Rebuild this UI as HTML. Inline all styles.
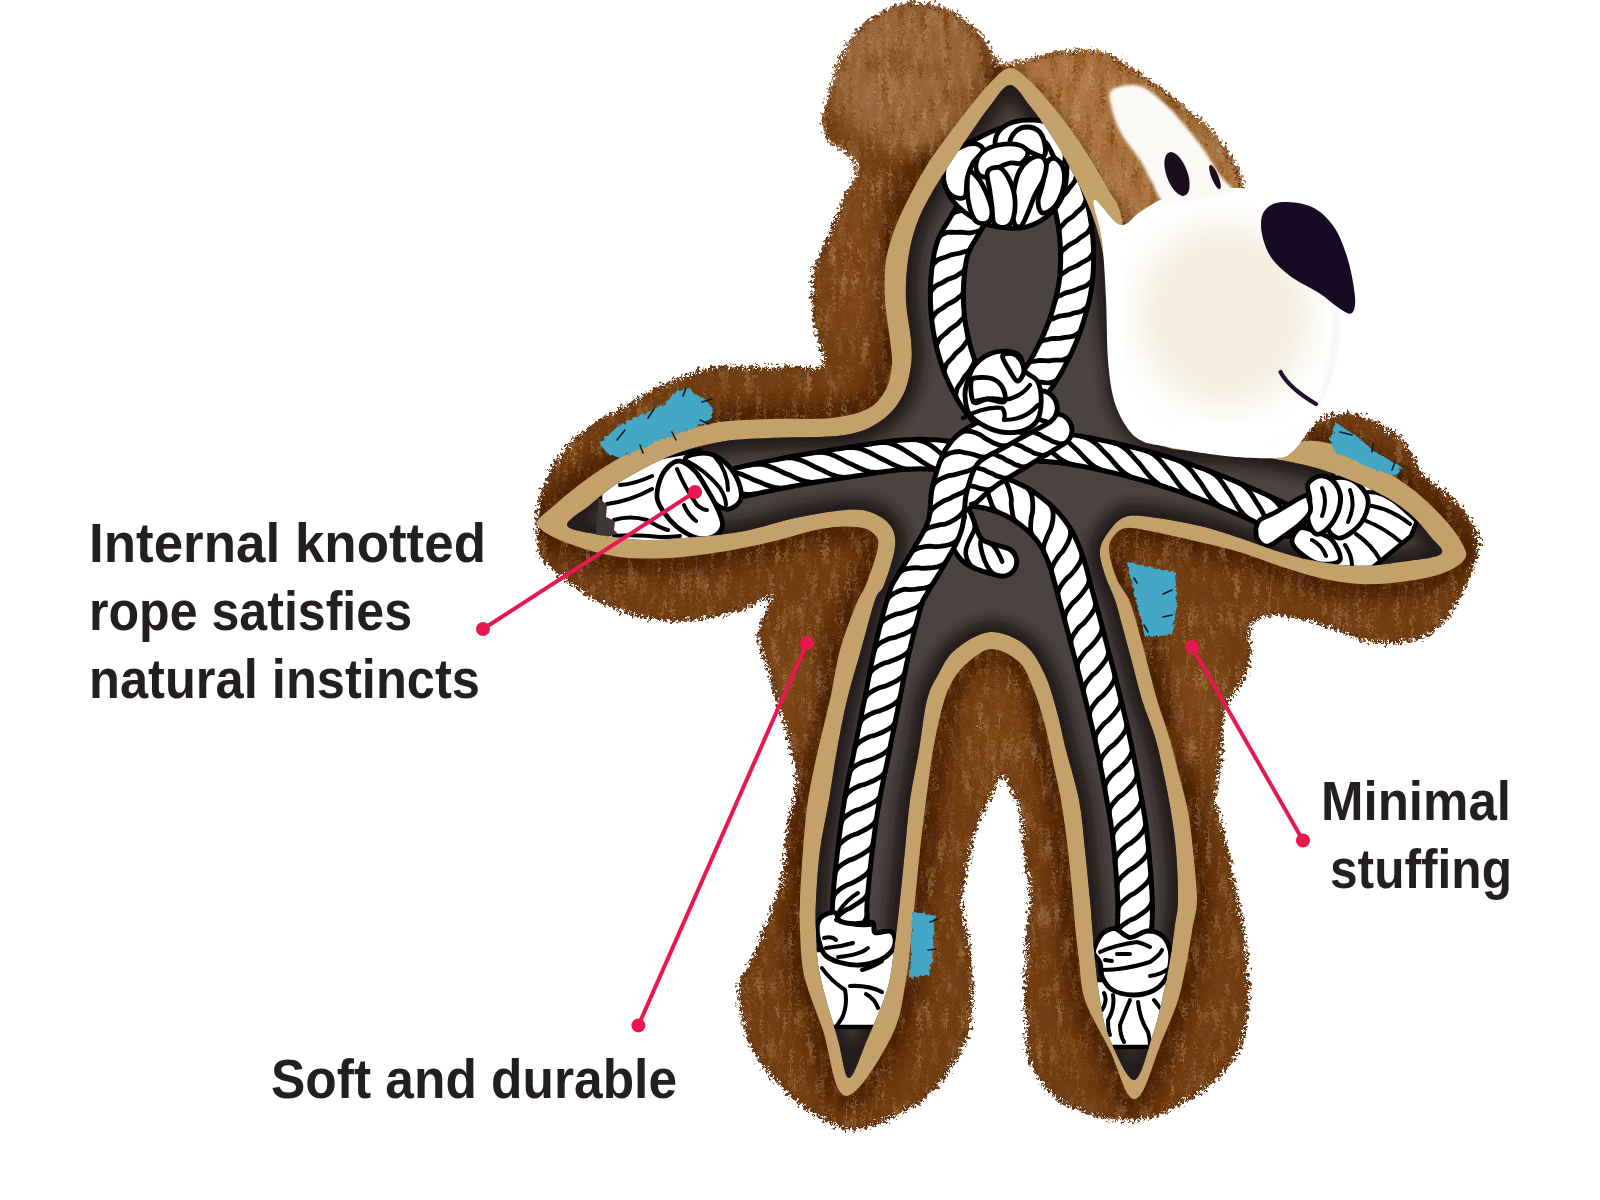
<!DOCTYPE html>
<html><head><meta charset="utf-8"><title>Bear toy</title>
<style>html,body{margin:0;padding:0;background:#fff;width:1600px;height:1200px;overflow:hidden}</style>
</head><body>
<svg width="1600" height="1200" viewBox="0 0 1600 1200" style="position:absolute;left:0;top:0">
<defs>
<filter id="fur" x="-5%" y="-5%" width="110%" height="110%">
 <feTurbulence type="fractalNoise" baseFrequency="0.32" numOctaves="1" seed="3" result="n"/>
 <feDisplacementMap in="SourceGraphic" in2="n" scale="13" xChannelSelector="R" yChannelSelector="G"/>
</filter>
<filter id="furtex" x="0" y="0" width="100%" height="100%">
 <feTurbulence type="fractalNoise" baseFrequency="0.28 0.03" numOctaves="3" seed="11"/>
 <feColorMatrix type="matrix" values="0 0 0 0 0.82  0 0 0 0 0.58  0 0 0 0 0.32  2.2 0 0 0 -1.1"/>
</filter>
<filter id="furtex2" x="0" y="0" width="100%" height="100%">
 <feTurbulence type="fractalNoise" baseFrequency="0.22 0.025" numOctaves="3" seed="23"/>
 <feColorMatrix type="matrix" values="0 0 0 0 0.16  0 0 0 0 0.04  0 0 0 0 0  2.2 0 0 0 -1.0"/>
</filter>
<clipPath id="silclip"><path d="M831.0,137.0 C826.7,130.7 826.7,125.2 827.0,118.0 C827.3,110.8 830.2,104.3 833.0,94.0 C835.8,83.7 838.0,67.5 844.0,56.0 C850.0,44.5 858.7,33.2 869.0,25.0 C879.3,16.8 893.5,9.2 906.0,7.0 C918.5,4.8 932.5,7.5 944.0,12.0 C955.5,16.5 967.2,26.3 975.0,34.0 C982.8,41.7 986.3,52.5 991.0,58.0 C995.7,63.5 994.8,66.7 1003.0,67.0 C1011.2,67.3 1029.7,62.0 1040.0,60.0 C1050.3,58.0 1055.0,55.8 1065.0,55.0 C1075.0,54.2 1090.0,52.8 1100.0,55.0 C1110.0,57.2 1116.7,63.0 1125.0,68.0 C1133.3,73.0 1140.8,78.3 1150.0,85.0 C1159.2,91.7 1170.8,100.8 1180.0,108.0 C1189.2,115.2 1197.2,119.7 1205.0,128.0 C1212.8,136.3 1221.2,148.5 1227.0,158.0 C1232.8,167.5 1235.3,169.7 1240.0,185.0 C1244.7,200.3 1250.8,222.5 1255.0,250.0 C1259.2,277.5 1259.2,320.8 1265.0,350.0 C1270.8,379.2 1283.0,410.8 1290.0,425.0 C1297.0,439.2 1301.2,435.8 1307.0,435.0 C1312.8,434.2 1317.8,423.0 1325.0,420.0 C1332.2,417.0 1341.7,416.2 1350.0,417.0 C1358.3,417.8 1366.7,420.8 1375.0,425.0 C1383.3,429.2 1392.5,433.7 1400.0,442.0 C1407.5,450.3 1411.7,465.3 1420.0,475.0 C1428.3,484.7 1441.7,491.7 1450.0,500.0 C1458.3,508.3 1465.7,517.5 1470.0,525.0 C1474.3,532.5 1476.0,538.0 1476.0,545.0 C1476.0,552.0 1473.5,557.8 1470.0,567.0 C1466.5,576.2 1460.5,590.3 1455.0,600.0 C1449.5,609.7 1444.2,618.8 1437.0,625.0 C1429.8,631.2 1422.3,634.5 1412.0,637.0 C1401.7,639.5 1387.5,641.7 1375.0,640.0 C1362.5,638.3 1349.5,631.0 1337.0,627.0 C1324.5,623.0 1310.3,618.5 1300.0,616.0 C1289.7,613.5 1282.5,611.7 1275.0,612.0 C1267.5,612.3 1259.8,614.7 1255.0,618.0 C1250.2,621.3 1247.3,625.8 1246.0,632.0 C1244.7,638.2 1248.0,647.0 1247.0,655.0 C1246.0,663.0 1244.2,670.8 1240.0,680.0 C1235.8,689.2 1225.7,696.7 1222.0,710.0 C1218.3,723.3 1219.7,745.0 1218.0,760.0 C1216.3,775.0 1212.2,790.8 1212.0,800.0 C1211.8,809.2 1214.8,806.7 1217.0,815.0 C1219.2,823.3 1222.8,839.7 1225.0,850.0 C1227.2,860.3 1228.0,867.0 1230.0,877.0 C1232.0,887.0 1235.0,899.5 1237.0,910.0 C1239.0,920.5 1240.5,926.7 1242.0,940.0 C1243.5,953.3 1246.3,973.3 1246.0,990.0 C1245.7,1006.7 1243.5,1027.5 1240.0,1040.0 C1236.5,1052.5 1231.8,1056.7 1225.0,1065.0 C1218.2,1073.3 1211.5,1081.8 1199.0,1090.0 C1186.5,1098.2 1164.5,1109.5 1150.0,1114.0 C1135.5,1118.5 1124.5,1118.5 1112.0,1117.0 C1099.5,1115.5 1084.3,1108.7 1075.0,1105.0 C1065.7,1101.3 1062.2,1100.8 1056.0,1095.0 C1049.8,1089.2 1042.3,1077.5 1038.0,1070.0 C1033.7,1062.5 1031.7,1061.7 1030.0,1050.0 C1028.3,1038.3 1028.3,1012.5 1028.0,1000.0 C1027.7,987.5 1027.7,986.7 1028.0,975.0 C1028.3,963.3 1029.2,942.5 1030.0,930.0 C1030.8,917.5 1033.0,909.2 1033.0,900.0 C1033.0,890.8 1031.0,883.3 1030.0,875.0 C1029.0,866.7 1027.8,858.3 1027.0,850.0 C1026.2,841.7 1026.3,833.3 1025.0,825.0 C1023.7,816.7 1022.7,808.8 1019.0,800.0 C1015.3,791.2 1008.5,772.0 1003.0,772.0 C997.5,772.0 990.8,791.2 986.0,800.0 C981.2,808.8 977.0,816.7 974.0,825.0 C971.0,833.3 969.8,841.7 968.0,850.0 C966.2,858.3 964.7,866.7 963.0,875.0 C961.3,883.3 957.7,889.7 958.0,900.0 C958.3,910.3 963.0,921.3 965.0,937.0 C967.0,952.7 970.5,976.5 970.0,994.0 C969.5,1011.5 968.3,1026.5 962.0,1042.0 C955.7,1057.5 944.5,1074.5 932.0,1087.0 C919.5,1099.5 902.0,1110.7 887.0,1117.0 C872.0,1123.3 857.5,1128.7 842.0,1125.0 C826.5,1121.3 808.3,1107.5 794.0,1095.0 C779.7,1082.5 764.8,1066.8 756.0,1050.0 C747.2,1033.2 742.0,1007.3 741.0,994.0 C740.0,980.7 745.7,980.7 750.0,970.0 C754.3,959.3 761.3,945.0 767.0,930.0 C772.7,915.0 780.2,896.7 784.0,880.0 C787.8,863.3 787.5,846.7 790.0,830.0 C792.5,813.3 798.8,795.0 799.0,780.0 C799.2,765.0 794.7,755.0 791.0,740.0 C787.3,725.0 781.8,706.7 777.0,690.0 C772.2,673.3 763.5,652.5 762.0,640.0 C760.5,627.5 766.3,622.7 768.0,615.0 C769.7,607.3 775.8,595.7 772.0,594.0 C768.2,592.3 757.8,601.2 745.0,605.0 C732.2,608.8 711.7,615.3 695.0,617.0 C678.3,618.7 659.7,617.5 645.0,615.0 C630.3,612.5 619.5,607.8 607.0,602.0 C594.5,596.2 580.3,587.5 570.0,580.0 C559.7,572.5 550.0,564.5 545.0,557.0 C540.0,549.5 540.8,542.8 540.0,535.0 C539.2,527.2 538.3,519.2 540.0,510.0 C541.7,500.8 545.8,489.7 550.0,480.0 C554.2,470.3 557.5,460.8 565.0,452.0 C572.5,443.2 583.8,434.8 595.0,427.0 C606.2,419.2 619.5,412.0 632.0,405.0 C644.5,398.0 657.5,390.5 670.0,385.0 C682.5,379.5 694.5,374.5 707.0,372.0 C719.5,369.5 730.3,370.3 745.0,370.0 C759.7,369.7 782.5,369.8 795.0,370.0 C807.5,370.2 814.8,372.7 820.0,371.0 C825.2,369.3 825.7,364.5 826.0,360.0 C826.3,355.5 823.7,352.0 822.0,344.0 C820.3,336.0 817.0,323.5 816.0,312.0 C815.0,300.5 814.0,286.3 816.0,275.0 C818.0,263.7 823.3,255.5 828.0,244.0 C832.7,232.5 838.8,217.5 844.0,206.0 C849.2,194.5 857.5,183.3 859.0,175.0 C860.5,166.7 857.7,162.3 853.0,156.0 C848.3,149.7 835.3,143.3 831.0,137.0Z"/></clipPath>
<filter id="rough" x="-10%" y="-10%" width="120%" height="120%"><feTurbulence type="fractalNoise" baseFrequency="0.25" numOctaves="2" seed="5" result="n"/><feDisplacementMap in="SourceGraphic" in2="n" scale="5"/></filter>
<filter id="b8"><feGaussianBlur stdDeviation="8"/></filter>
<filter id="b18"><feGaussianBlur stdDeviation="18"/></filter>
<filter id="b6"><feGaussianBlur stdDeviation="6"/></filter>
<filter id="b3"><feGaussianBlur stdDeviation="3"/></filter>
<filter id="b2"><feGaussianBlur stdDeviation="1.5"/></filter>
<clipPath id="darkclip"><path d="M1010.0,85.0 C1016.7,85.0 1023.3,97.8 1030.0,106.0 C1036.7,114.2 1043.7,124.3 1050.0,134.0 C1056.3,143.7 1062.3,153.7 1068.0,164.0 C1073.7,174.3 1079.3,185.7 1084.0,196.0 C1088.7,206.3 1092.7,215.3 1096.0,226.0 C1099.3,236.7 1102.0,247.7 1104.0,260.0 C1106.0,272.3 1106.7,286.7 1108.0,300.0 C1109.3,313.3 1110.5,327.5 1112.0,340.0 C1113.5,352.5 1115.3,364.2 1117.0,375.0 C1118.7,385.8 1118.2,395.5 1122.0,405.0 C1125.8,414.5 1133.3,425.3 1140.0,432.0 C1146.7,438.7 1155.3,442.0 1162.0,445.0 C1168.7,448.0 1167.0,448.5 1180.0,450.0 C1193.0,451.5 1220.0,451.7 1240.0,454.0 C1260.0,456.3 1283.3,460.3 1300.0,464.0 C1316.7,467.7 1326.7,471.0 1340.0,476.0 C1353.3,481.0 1368.3,487.7 1380.0,494.0 C1391.7,500.3 1401.7,507.0 1410.0,514.0 C1418.3,521.0 1424.8,529.3 1430.0,536.0 C1435.2,542.7 1446.0,549.7 1441.0,554.0 C1436.0,558.3 1413.5,560.0 1400.0,562.0 C1386.5,564.0 1373.3,566.0 1360.0,566.0 C1346.7,566.0 1333.3,564.3 1320.0,562.0 C1306.7,559.7 1293.3,556.0 1280.0,552.0 C1266.7,548.0 1253.3,542.3 1240.0,538.0 C1226.7,533.7 1215.0,529.5 1200.0,526.0 C1185.0,522.5 1162.5,518.5 1150.0,517.0 C1137.5,515.5 1131.7,514.8 1125.0,517.0 C1118.3,519.2 1114.2,524.5 1110.0,530.0 C1105.8,535.5 1100.8,542.5 1100.0,550.0 C1099.2,557.5 1102.5,566.7 1105.0,575.0 C1107.5,583.3 1112.2,591.7 1115.0,600.0 C1117.8,608.3 1119.2,614.7 1122.0,625.0 C1124.8,635.3 1128.7,649.5 1132.0,662.0 C1135.3,674.5 1138.2,687.5 1142.0,700.0 C1145.8,712.5 1151.3,724.5 1155.0,737.0 C1158.7,749.5 1161.3,762.5 1164.0,775.0 C1166.7,787.5 1169.0,799.5 1171.0,812.0 C1173.0,824.5 1174.8,835.3 1176.0,850.0 C1177.2,864.7 1178.2,887.5 1178.0,900.0 C1177.8,912.5 1176.3,915.0 1175.0,925.0 C1173.7,935.0 1172.2,947.5 1170.0,960.0 C1167.8,972.5 1165.0,987.2 1162.0,1000.0 C1159.0,1012.8 1156.7,1023.7 1152.0,1037.0 C1147.3,1050.3 1141.2,1080.0 1134.0,1080.0 C1126.8,1080.0 1114.7,1050.3 1109.0,1037.0 C1103.3,1023.7 1102.3,1012.8 1100.0,1000.0 C1097.7,987.2 1096.3,972.5 1095.0,960.0 C1093.7,947.5 1092.8,935.0 1092.0,925.0 C1091.2,915.0 1091.2,912.5 1090.0,900.0 C1088.8,887.5 1086.8,866.7 1085.0,850.0 C1083.2,833.3 1082.2,816.7 1079.0,800.0 C1075.8,783.3 1069.7,764.7 1066.0,750.0 C1062.3,735.3 1060.5,724.5 1057.0,712.0 C1053.5,699.5 1050.3,686.2 1045.0,675.0 C1039.7,663.8 1034.2,652.2 1025.0,645.0 C1015.8,637.8 1001.7,631.2 990.0,632.0 C978.3,632.8 963.7,642.8 955.0,650.0 C946.3,657.2 942.7,666.7 938.0,675.0 C933.3,683.3 930.2,687.5 927.0,700.0 C923.8,712.5 921.8,733.3 919.0,750.0 C916.2,766.7 912.3,783.3 910.0,800.0 C907.7,816.7 906.7,833.3 905.0,850.0 C903.3,866.7 901.8,883.3 900.0,900.0 C898.2,916.7 896.2,935.0 894.0,950.0 C891.8,965.0 891.5,975.0 887.0,990.0 C882.5,1005.0 873.3,1025.3 867.0,1040.0 C860.7,1054.7 853.8,1078.0 849.0,1078.0 C844.2,1078.0 842.8,1057.2 838.0,1040.0 C833.2,1022.8 823.7,993.3 820.0,975.0 C816.3,956.7 816.7,942.5 816.0,930.0 C815.3,917.5 815.3,913.3 816.0,900.0 C816.7,886.7 817.8,866.7 820.0,850.0 C822.2,833.3 826.2,816.7 829.0,800.0 C831.8,783.3 834.0,766.7 837.0,750.0 C840.0,733.3 843.0,716.7 847.0,700.0 C851.0,683.3 856.3,666.7 861.0,650.0 C865.7,633.3 871.2,610.8 875.0,600.0 C878.8,589.2 880.7,593.8 884.0,585.0 C887.3,576.2 894.0,557.0 895.0,547.0 C896.0,537.0 894.2,530.8 890.0,525.0 C885.8,519.2 877.5,514.5 870.0,512.0 C862.5,509.5 857.5,509.0 845.0,510.0 C832.5,511.0 811.7,514.5 795.0,518.0 C778.3,521.5 761.7,527.8 745.0,531.0 C728.3,534.2 711.7,535.5 695.0,537.0 C678.3,538.5 661.7,540.5 645.0,540.0 C628.3,539.5 608.0,536.5 595.0,534.0 C582.0,531.5 567.8,529.8 567.0,525.0 C566.2,520.2 581.2,512.2 590.0,505.0 C598.8,497.8 606.7,490.2 620.0,482.0 C633.3,473.8 653.3,462.7 670.0,456.0 C686.7,449.3 703.3,445.0 720.0,442.0 C736.7,439.0 749.2,439.2 770.0,438.0 C790.8,436.8 826.3,438.0 845.0,435.0 C863.7,432.0 872.3,426.7 882.0,420.0 C891.7,413.3 898.2,404.2 903.0,395.0 C907.8,385.8 909.7,374.2 911.0,365.0 C912.3,355.8 911.8,350.8 911.0,340.0 C910.2,329.2 906.5,313.3 906.0,300.0 C905.5,286.7 906.3,272.3 908.0,260.0 C909.7,247.7 912.3,236.7 916.0,226.0 C919.7,215.3 924.3,206.3 930.0,196.0 C935.7,185.7 943.3,174.3 950.0,164.0 C956.7,153.7 963.3,143.7 970.0,134.0 C976.7,124.3 983.3,114.2 990.0,106.0 C996.7,97.8 1003.3,85.0 1010.0,85.0Z"/></clipPath>
</defs>
<g filter="url(#fur)">
<path d="M831.0,137.0 C826.7,130.7 826.7,125.2 827.0,118.0 C827.3,110.8 830.2,104.3 833.0,94.0 C835.8,83.7 838.0,67.5 844.0,56.0 C850.0,44.5 858.7,33.2 869.0,25.0 C879.3,16.8 893.5,9.2 906.0,7.0 C918.5,4.8 932.5,7.5 944.0,12.0 C955.5,16.5 967.2,26.3 975.0,34.0 C982.8,41.7 986.3,52.5 991.0,58.0 C995.7,63.5 994.8,66.7 1003.0,67.0 C1011.2,67.3 1029.7,62.0 1040.0,60.0 C1050.3,58.0 1055.0,55.8 1065.0,55.0 C1075.0,54.2 1090.0,52.8 1100.0,55.0 C1110.0,57.2 1116.7,63.0 1125.0,68.0 C1133.3,73.0 1140.8,78.3 1150.0,85.0 C1159.2,91.7 1170.8,100.8 1180.0,108.0 C1189.2,115.2 1197.2,119.7 1205.0,128.0 C1212.8,136.3 1221.2,148.5 1227.0,158.0 C1232.8,167.5 1235.3,169.7 1240.0,185.0 C1244.7,200.3 1250.8,222.5 1255.0,250.0 C1259.2,277.5 1259.2,320.8 1265.0,350.0 C1270.8,379.2 1283.0,410.8 1290.0,425.0 C1297.0,439.2 1301.2,435.8 1307.0,435.0 C1312.8,434.2 1317.8,423.0 1325.0,420.0 C1332.2,417.0 1341.7,416.2 1350.0,417.0 C1358.3,417.8 1366.7,420.8 1375.0,425.0 C1383.3,429.2 1392.5,433.7 1400.0,442.0 C1407.5,450.3 1411.7,465.3 1420.0,475.0 C1428.3,484.7 1441.7,491.7 1450.0,500.0 C1458.3,508.3 1465.7,517.5 1470.0,525.0 C1474.3,532.5 1476.0,538.0 1476.0,545.0 C1476.0,552.0 1473.5,557.8 1470.0,567.0 C1466.5,576.2 1460.5,590.3 1455.0,600.0 C1449.5,609.7 1444.2,618.8 1437.0,625.0 C1429.8,631.2 1422.3,634.5 1412.0,637.0 C1401.7,639.5 1387.5,641.7 1375.0,640.0 C1362.5,638.3 1349.5,631.0 1337.0,627.0 C1324.5,623.0 1310.3,618.5 1300.0,616.0 C1289.7,613.5 1282.5,611.7 1275.0,612.0 C1267.5,612.3 1259.8,614.7 1255.0,618.0 C1250.2,621.3 1247.3,625.8 1246.0,632.0 C1244.7,638.2 1248.0,647.0 1247.0,655.0 C1246.0,663.0 1244.2,670.8 1240.0,680.0 C1235.8,689.2 1225.7,696.7 1222.0,710.0 C1218.3,723.3 1219.7,745.0 1218.0,760.0 C1216.3,775.0 1212.2,790.8 1212.0,800.0 C1211.8,809.2 1214.8,806.7 1217.0,815.0 C1219.2,823.3 1222.8,839.7 1225.0,850.0 C1227.2,860.3 1228.0,867.0 1230.0,877.0 C1232.0,887.0 1235.0,899.5 1237.0,910.0 C1239.0,920.5 1240.5,926.7 1242.0,940.0 C1243.5,953.3 1246.3,973.3 1246.0,990.0 C1245.7,1006.7 1243.5,1027.5 1240.0,1040.0 C1236.5,1052.5 1231.8,1056.7 1225.0,1065.0 C1218.2,1073.3 1211.5,1081.8 1199.0,1090.0 C1186.5,1098.2 1164.5,1109.5 1150.0,1114.0 C1135.5,1118.5 1124.5,1118.5 1112.0,1117.0 C1099.5,1115.5 1084.3,1108.7 1075.0,1105.0 C1065.7,1101.3 1062.2,1100.8 1056.0,1095.0 C1049.8,1089.2 1042.3,1077.5 1038.0,1070.0 C1033.7,1062.5 1031.7,1061.7 1030.0,1050.0 C1028.3,1038.3 1028.3,1012.5 1028.0,1000.0 C1027.7,987.5 1027.7,986.7 1028.0,975.0 C1028.3,963.3 1029.2,942.5 1030.0,930.0 C1030.8,917.5 1033.0,909.2 1033.0,900.0 C1033.0,890.8 1031.0,883.3 1030.0,875.0 C1029.0,866.7 1027.8,858.3 1027.0,850.0 C1026.2,841.7 1026.3,833.3 1025.0,825.0 C1023.7,816.7 1022.7,808.8 1019.0,800.0 C1015.3,791.2 1008.5,772.0 1003.0,772.0 C997.5,772.0 990.8,791.2 986.0,800.0 C981.2,808.8 977.0,816.7 974.0,825.0 C971.0,833.3 969.8,841.7 968.0,850.0 C966.2,858.3 964.7,866.7 963.0,875.0 C961.3,883.3 957.7,889.7 958.0,900.0 C958.3,910.3 963.0,921.3 965.0,937.0 C967.0,952.7 970.5,976.5 970.0,994.0 C969.5,1011.5 968.3,1026.5 962.0,1042.0 C955.7,1057.5 944.5,1074.5 932.0,1087.0 C919.5,1099.5 902.0,1110.7 887.0,1117.0 C872.0,1123.3 857.5,1128.7 842.0,1125.0 C826.5,1121.3 808.3,1107.5 794.0,1095.0 C779.7,1082.5 764.8,1066.8 756.0,1050.0 C747.2,1033.2 742.0,1007.3 741.0,994.0 C740.0,980.7 745.7,980.7 750.0,970.0 C754.3,959.3 761.3,945.0 767.0,930.0 C772.7,915.0 780.2,896.7 784.0,880.0 C787.8,863.3 787.5,846.7 790.0,830.0 C792.5,813.3 798.8,795.0 799.0,780.0 C799.2,765.0 794.7,755.0 791.0,740.0 C787.3,725.0 781.8,706.7 777.0,690.0 C772.2,673.3 763.5,652.5 762.0,640.0 C760.5,627.5 766.3,622.7 768.0,615.0 C769.7,607.3 775.8,595.7 772.0,594.0 C768.2,592.3 757.8,601.2 745.0,605.0 C732.2,608.8 711.7,615.3 695.0,617.0 C678.3,618.7 659.7,617.5 645.0,615.0 C630.3,612.5 619.5,607.8 607.0,602.0 C594.5,596.2 580.3,587.5 570.0,580.0 C559.7,572.5 550.0,564.5 545.0,557.0 C540.0,549.5 540.8,542.8 540.0,535.0 C539.2,527.2 538.3,519.2 540.0,510.0 C541.7,500.8 545.8,489.7 550.0,480.0 C554.2,470.3 557.5,460.8 565.0,452.0 C572.5,443.2 583.8,434.8 595.0,427.0 C606.2,419.2 619.5,412.0 632.0,405.0 C644.5,398.0 657.5,390.5 670.0,385.0 C682.5,379.5 694.5,374.5 707.0,372.0 C719.5,369.5 730.3,370.3 745.0,370.0 C759.7,369.7 782.5,369.8 795.0,370.0 C807.5,370.2 814.8,372.7 820.0,371.0 C825.2,369.3 825.7,364.5 826.0,360.0 C826.3,355.5 823.7,352.0 822.0,344.0 C820.3,336.0 817.0,323.5 816.0,312.0 C815.0,300.5 814.0,286.3 816.0,275.0 C818.0,263.7 823.3,255.5 828.0,244.0 C832.7,232.5 838.8,217.5 844.0,206.0 C849.2,194.5 857.5,183.3 859.0,175.0 C860.5,166.7 857.7,162.3 853.0,156.0 C848.3,149.7 835.3,143.3 831.0,137.0Z" fill="none" stroke="#70401a" stroke-width="9" stroke-dasharray="2.2 2.6"/>
<path d="M831.0,137.0 C826.7,130.7 826.7,125.2 827.0,118.0 C827.3,110.8 830.2,104.3 833.0,94.0 C835.8,83.7 838.0,67.5 844.0,56.0 C850.0,44.5 858.7,33.2 869.0,25.0 C879.3,16.8 893.5,9.2 906.0,7.0 C918.5,4.8 932.5,7.5 944.0,12.0 C955.5,16.5 967.2,26.3 975.0,34.0 C982.8,41.7 986.3,52.5 991.0,58.0 C995.7,63.5 994.8,66.7 1003.0,67.0 C1011.2,67.3 1029.7,62.0 1040.0,60.0 C1050.3,58.0 1055.0,55.8 1065.0,55.0 C1075.0,54.2 1090.0,52.8 1100.0,55.0 C1110.0,57.2 1116.7,63.0 1125.0,68.0 C1133.3,73.0 1140.8,78.3 1150.0,85.0 C1159.2,91.7 1170.8,100.8 1180.0,108.0 C1189.2,115.2 1197.2,119.7 1205.0,128.0 C1212.8,136.3 1221.2,148.5 1227.0,158.0 C1232.8,167.5 1235.3,169.7 1240.0,185.0 C1244.7,200.3 1250.8,222.5 1255.0,250.0 C1259.2,277.5 1259.2,320.8 1265.0,350.0 C1270.8,379.2 1283.0,410.8 1290.0,425.0 C1297.0,439.2 1301.2,435.8 1307.0,435.0 C1312.8,434.2 1317.8,423.0 1325.0,420.0 C1332.2,417.0 1341.7,416.2 1350.0,417.0 C1358.3,417.8 1366.7,420.8 1375.0,425.0 C1383.3,429.2 1392.5,433.7 1400.0,442.0 C1407.5,450.3 1411.7,465.3 1420.0,475.0 C1428.3,484.7 1441.7,491.7 1450.0,500.0 C1458.3,508.3 1465.7,517.5 1470.0,525.0 C1474.3,532.5 1476.0,538.0 1476.0,545.0 C1476.0,552.0 1473.5,557.8 1470.0,567.0 C1466.5,576.2 1460.5,590.3 1455.0,600.0 C1449.5,609.7 1444.2,618.8 1437.0,625.0 C1429.8,631.2 1422.3,634.5 1412.0,637.0 C1401.7,639.5 1387.5,641.7 1375.0,640.0 C1362.5,638.3 1349.5,631.0 1337.0,627.0 C1324.5,623.0 1310.3,618.5 1300.0,616.0 C1289.7,613.5 1282.5,611.7 1275.0,612.0 C1267.5,612.3 1259.8,614.7 1255.0,618.0 C1250.2,621.3 1247.3,625.8 1246.0,632.0 C1244.7,638.2 1248.0,647.0 1247.0,655.0 C1246.0,663.0 1244.2,670.8 1240.0,680.0 C1235.8,689.2 1225.7,696.7 1222.0,710.0 C1218.3,723.3 1219.7,745.0 1218.0,760.0 C1216.3,775.0 1212.2,790.8 1212.0,800.0 C1211.8,809.2 1214.8,806.7 1217.0,815.0 C1219.2,823.3 1222.8,839.7 1225.0,850.0 C1227.2,860.3 1228.0,867.0 1230.0,877.0 C1232.0,887.0 1235.0,899.5 1237.0,910.0 C1239.0,920.5 1240.5,926.7 1242.0,940.0 C1243.5,953.3 1246.3,973.3 1246.0,990.0 C1245.7,1006.7 1243.5,1027.5 1240.0,1040.0 C1236.5,1052.5 1231.8,1056.7 1225.0,1065.0 C1218.2,1073.3 1211.5,1081.8 1199.0,1090.0 C1186.5,1098.2 1164.5,1109.5 1150.0,1114.0 C1135.5,1118.5 1124.5,1118.5 1112.0,1117.0 C1099.5,1115.5 1084.3,1108.7 1075.0,1105.0 C1065.7,1101.3 1062.2,1100.8 1056.0,1095.0 C1049.8,1089.2 1042.3,1077.5 1038.0,1070.0 C1033.7,1062.5 1031.7,1061.7 1030.0,1050.0 C1028.3,1038.3 1028.3,1012.5 1028.0,1000.0 C1027.7,987.5 1027.7,986.7 1028.0,975.0 C1028.3,963.3 1029.2,942.5 1030.0,930.0 C1030.8,917.5 1033.0,909.2 1033.0,900.0 C1033.0,890.8 1031.0,883.3 1030.0,875.0 C1029.0,866.7 1027.8,858.3 1027.0,850.0 C1026.2,841.7 1026.3,833.3 1025.0,825.0 C1023.7,816.7 1022.7,808.8 1019.0,800.0 C1015.3,791.2 1008.5,772.0 1003.0,772.0 C997.5,772.0 990.8,791.2 986.0,800.0 C981.2,808.8 977.0,816.7 974.0,825.0 C971.0,833.3 969.8,841.7 968.0,850.0 C966.2,858.3 964.7,866.7 963.0,875.0 C961.3,883.3 957.7,889.7 958.0,900.0 C958.3,910.3 963.0,921.3 965.0,937.0 C967.0,952.7 970.5,976.5 970.0,994.0 C969.5,1011.5 968.3,1026.5 962.0,1042.0 C955.7,1057.5 944.5,1074.5 932.0,1087.0 C919.5,1099.5 902.0,1110.7 887.0,1117.0 C872.0,1123.3 857.5,1128.7 842.0,1125.0 C826.5,1121.3 808.3,1107.5 794.0,1095.0 C779.7,1082.5 764.8,1066.8 756.0,1050.0 C747.2,1033.2 742.0,1007.3 741.0,994.0 C740.0,980.7 745.7,980.7 750.0,970.0 C754.3,959.3 761.3,945.0 767.0,930.0 C772.7,915.0 780.2,896.7 784.0,880.0 C787.8,863.3 787.5,846.7 790.0,830.0 C792.5,813.3 798.8,795.0 799.0,780.0 C799.2,765.0 794.7,755.0 791.0,740.0 C787.3,725.0 781.8,706.7 777.0,690.0 C772.2,673.3 763.5,652.5 762.0,640.0 C760.5,627.5 766.3,622.7 768.0,615.0 C769.7,607.3 775.8,595.7 772.0,594.0 C768.2,592.3 757.8,601.2 745.0,605.0 C732.2,608.8 711.7,615.3 695.0,617.0 C678.3,618.7 659.7,617.5 645.0,615.0 C630.3,612.5 619.5,607.8 607.0,602.0 C594.5,596.2 580.3,587.5 570.0,580.0 C559.7,572.5 550.0,564.5 545.0,557.0 C540.0,549.5 540.8,542.8 540.0,535.0 C539.2,527.2 538.3,519.2 540.0,510.0 C541.7,500.8 545.8,489.7 550.0,480.0 C554.2,470.3 557.5,460.8 565.0,452.0 C572.5,443.2 583.8,434.8 595.0,427.0 C606.2,419.2 619.5,412.0 632.0,405.0 C644.5,398.0 657.5,390.5 670.0,385.0 C682.5,379.5 694.5,374.5 707.0,372.0 C719.5,369.5 730.3,370.3 745.0,370.0 C759.7,369.7 782.5,369.8 795.0,370.0 C807.5,370.2 814.8,372.7 820.0,371.0 C825.2,369.3 825.7,364.5 826.0,360.0 C826.3,355.5 823.7,352.0 822.0,344.0 C820.3,336.0 817.0,323.5 816.0,312.0 C815.0,300.5 814.0,286.3 816.0,275.0 C818.0,263.7 823.3,255.5 828.0,244.0 C832.7,232.5 838.8,217.5 844.0,206.0 C849.2,194.5 857.5,183.3 859.0,175.0 C860.5,166.7 857.7,162.3 853.0,156.0 C848.3,149.7 835.3,143.3 831.0,137.0Z" fill="none" stroke="#5f3210" stroke-width="6" stroke-dasharray="3 1.5"/>
<path d="M844.0,206.0 C846.5,200.8 857.5,183.3 859.0,175.0 C860.5,166.7 857.7,162.3 853.0,156.0 C848.3,149.7 835.3,143.3 831.0,137.0 C826.7,130.7 826.7,125.2 827.0,118.0 C827.3,110.8 830.2,104.3 833.0,94.0 C835.8,83.7 838.0,67.5 844.0,56.0 C850.0,44.5 858.7,33.2 869.0,25.0 C879.3,16.8 893.5,9.2 906.0,7.0 C918.5,4.8 932.5,7.5 944.0,12.0 C955.5,16.5 967.2,26.3 975.0,34.0 C982.8,41.7 986.3,52.5 991.0,58.0 C995.7,63.5 1001.0,65.5 1003.0,67.0" fill="none" stroke="#96643a" stroke-width="10" stroke-dasharray="2.4 2.2"/>
<path d="M1003.0,67.0 C1009.2,65.8 1029.7,62.0 1040.0,60.0 C1050.3,58.0 1055.0,55.8 1065.0,55.0 C1075.0,54.2 1090.0,52.8 1100.0,55.0 C1110.0,57.2 1116.7,63.0 1125.0,68.0 C1133.3,73.0 1140.8,78.3 1150.0,85.0 C1159.2,91.7 1170.8,100.8 1180.0,108.0 C1189.2,115.2 1197.2,119.7 1205.0,128.0 C1212.8,136.3 1221.2,148.5 1227.0,158.0 C1232.8,167.5 1237.8,180.5 1240.0,185.0" fill="none" stroke="#a5703e" stroke-width="10" stroke-dasharray="2.4 2.2"/>
<g clip-path="url(#silclip)">
<rect x="500" y="0" width="1000" height="1150" fill="#6f3c12"/>
<path d="M1010.0,70.0 C1016.7,69.7 1023.3,78.0 1030.0,84.0 C1036.7,90.0 1043.3,98.0 1050.0,106.0 C1056.7,114.0 1063.3,122.7 1070.0,132.0 C1076.7,141.3 1084.0,152.3 1090.0,162.0 C1096.0,171.7 1101.0,180.3 1106.0,190.0 C1111.0,199.7 1117.0,201.7 1120.0,220.0 C1123.0,238.3 1122.7,273.3 1124.0,300.0 C1125.3,326.7 1123.7,359.2 1128.0,380.0 C1132.3,400.8 1138.0,413.7 1150.0,425.0 C1162.0,436.3 1177.7,443.5 1200.0,448.0 C1222.3,452.5 1266.7,452.8 1284.0,452.0 C1301.3,451.2 1296.0,444.0 1304.0,443.0 C1312.0,442.0 1322.7,443.5 1332.0,446.0 C1341.3,448.5 1350.3,453.0 1360.0,458.0 C1369.7,463.0 1380.0,469.3 1390.0,476.0 C1400.0,482.7 1410.7,490.0 1420.0,498.0 C1429.3,506.0 1439.3,516.3 1446.0,524.0 C1452.7,531.7 1457.2,538.3 1460.0,544.0 C1462.8,549.7 1466.3,553.3 1463.0,558.0 C1459.7,562.7 1450.5,568.3 1440.0,572.0 C1429.5,575.7 1413.3,578.3 1400.0,580.0 C1386.7,581.7 1373.3,582.7 1360.0,582.0 C1346.7,581.3 1333.3,579.0 1320.0,576.0 C1306.7,573.0 1293.3,568.3 1280.0,564.0 C1266.7,559.7 1253.3,554.0 1240.0,550.0 C1226.7,546.0 1215.0,543.5 1200.0,540.0 C1185.0,536.5 1162.5,531.3 1150.0,529.0 C1137.5,526.7 1131.3,525.0 1125.0,526.0 C1118.7,527.0 1115.0,531.0 1112.0,535.0 C1109.0,539.0 1106.5,542.5 1107.0,550.0 C1107.5,557.5 1111.7,571.7 1115.0,580.0 C1118.3,588.3 1123.7,592.5 1127.0,600.0 C1130.3,607.5 1132.0,614.7 1135.0,625.0 C1138.0,635.3 1141.7,649.5 1145.0,662.0 C1148.3,674.5 1151.3,687.5 1155.0,700.0 C1158.7,712.5 1163.3,724.5 1167.0,737.0 C1170.7,749.5 1173.8,762.5 1177.0,775.0 C1180.2,787.5 1183.7,799.5 1186.0,812.0 C1188.3,824.5 1189.5,835.3 1191.0,850.0 C1192.5,864.7 1195.0,887.5 1195.0,900.0 C1195.0,912.5 1192.7,915.0 1191.0,925.0 C1189.3,935.0 1187.5,947.5 1185.0,960.0 C1182.5,972.5 1180.2,986.7 1176.0,1000.0 C1171.8,1013.3 1166.8,1023.8 1160.0,1040.0 C1153.2,1056.2 1143.0,1095.3 1135.0,1097.0 C1127.0,1098.7 1120.0,1066.2 1112.0,1050.0 C1104.0,1033.8 1092.2,1015.0 1087.0,1000.0 C1081.8,985.0 1082.7,972.5 1081.0,960.0 C1079.3,947.5 1078.0,935.0 1077.0,925.0 C1076.0,915.0 1076.2,912.5 1075.0,900.0 C1073.8,887.5 1072.0,866.7 1070.0,850.0 C1068.0,833.3 1065.5,814.7 1063.0,800.0 C1060.5,785.3 1057.7,774.5 1055.0,762.0 C1052.3,749.5 1050.3,737.5 1047.0,725.0 C1043.7,712.5 1039.5,697.8 1035.0,687.0 C1030.5,676.2 1027.5,666.7 1020.0,660.0 C1012.5,653.3 999.7,646.2 990.0,647.0 C980.3,647.8 969.2,658.3 962.0,665.0 C954.8,671.7 950.8,679.2 947.0,687.0 C943.2,694.8 941.7,701.5 939.0,712.0 C936.3,722.5 933.5,735.3 931.0,750.0 C928.5,764.7 926.2,783.3 924.0,800.0 C921.8,816.7 919.8,833.3 918.0,850.0 C916.2,866.7 914.3,886.7 913.0,900.0 C911.7,913.3 911.5,916.7 910.0,930.0 C908.5,943.3 907.3,962.5 904.0,980.0 C900.7,997.5 899.7,1016.0 890.0,1035.0 C880.3,1054.0 856.8,1094.8 846.0,1094.0 C835.2,1093.2 831.7,1049.8 825.0,1030.0 C818.3,1010.2 809.8,991.7 806.0,975.0 C802.2,958.3 802.7,942.5 802.0,930.0 C801.3,917.5 801.5,913.3 802.0,900.0 C802.5,886.7 803.7,866.7 805.0,850.0 C806.3,833.3 807.5,816.7 810.0,800.0 C812.5,783.3 816.3,766.7 820.0,750.0 C823.7,733.3 828.3,716.7 832.0,700.0 C835.7,683.3 837.7,665.8 842.0,650.0 C846.3,634.2 853.7,615.8 858.0,605.0 C862.3,594.2 864.3,594.7 868.0,585.0 C871.7,575.3 878.8,555.8 880.0,547.0 C881.2,538.2 878.8,535.7 875.0,532.0 C871.2,528.3 866.2,525.8 857.0,525.0 C847.8,524.2 834.5,524.5 820.0,527.0 C805.5,529.5 786.7,536.2 770.0,540.0 C753.3,543.8 736.7,547.3 720.0,550.0 C703.3,552.7 686.7,555.2 670.0,556.0 C653.3,556.8 636.7,557.3 620.0,555.0 C603.3,552.7 583.3,547.0 570.0,542.0 C556.7,537.0 543.0,530.3 540.0,525.0 C537.0,519.7 545.0,516.7 552.0,510.0 C559.0,503.3 570.7,493.3 582.0,485.0 C593.3,476.7 605.3,468.0 620.0,460.0 C634.7,452.0 653.3,443.0 670.0,437.0 C686.7,431.0 703.3,426.7 720.0,424.0 C736.7,421.3 751.3,421.7 770.0,421.0 C788.7,420.3 815.3,421.8 832.0,420.0 C848.7,418.2 860.7,415.0 870.0,410.0 C879.3,405.0 884.0,397.5 888.0,390.0 C892.0,382.5 893.3,373.3 894.0,365.0 C894.7,356.7 893.2,350.8 892.0,340.0 C890.8,329.2 887.7,313.3 887.0,300.0 C886.3,286.7 886.2,272.3 888.0,260.0 C889.8,247.7 894.0,236.7 898.0,226.0 C902.0,215.3 906.7,206.3 912.0,196.0 C917.3,185.7 923.7,174.0 930.0,164.0 C936.3,154.0 943.3,145.0 950.0,136.0 C956.7,127.0 963.3,118.3 970.0,110.0 C976.7,101.7 983.3,92.7 990.0,86.0 C996.7,79.3 1003.3,70.3 1010.0,70.0Z" fill="none" stroke="#3a1503" stroke-width="34" filter="url(#b8)" opacity="0.75"/>
<ellipse cx="905" cy="72" rx="78" ry="80" fill="#99663a" filter="url(#b8)"/>
<path d="M1005,60 L1110,40 L1260,170 L1250,215 L1135,235 L1095,175 L1060,120 Z" fill="#aa7440" filter="url(#b8)"/>
<ellipse cx="850" cy="250" rx="30" ry="100" fill="#80481a" filter="url(#b18)"/>
<ellipse cx="998" cy="740" rx="28" ry="60" fill="#7d4719" filter="url(#b18)"/>
<ellipse cx="1200" cy="700" rx="25" ry="70" fill="#80491b" filter="url(#b18)"/>
<ellipse cx="790" cy="690" rx="22" ry="60" fill="#80491b" filter="url(#b18)"/>
<rect x="500" y="0" width="1000" height="1150" filter="url(#furtex2)" opacity="0.7"/>
<rect x="500" y="0" width="1000" height="1150" filter="url(#furtex)" opacity="0.45"/>
</g></g>
<path d="M1010.0,70.0 C1016.7,69.7 1023.3,78.0 1030.0,84.0 C1036.7,90.0 1043.3,98.0 1050.0,106.0 C1056.7,114.0 1063.3,122.7 1070.0,132.0 C1076.7,141.3 1084.0,152.3 1090.0,162.0 C1096.0,171.7 1101.0,180.3 1106.0,190.0 C1111.0,199.7 1117.0,201.7 1120.0,220.0 C1123.0,238.3 1122.7,273.3 1124.0,300.0 C1125.3,326.7 1123.7,359.2 1128.0,380.0 C1132.3,400.8 1138.0,413.7 1150.0,425.0 C1162.0,436.3 1177.7,443.5 1200.0,448.0 C1222.3,452.5 1266.7,452.8 1284.0,452.0 C1301.3,451.2 1296.0,444.0 1304.0,443.0 C1312.0,442.0 1322.7,443.5 1332.0,446.0 C1341.3,448.5 1350.3,453.0 1360.0,458.0 C1369.7,463.0 1380.0,469.3 1390.0,476.0 C1400.0,482.7 1410.7,490.0 1420.0,498.0 C1429.3,506.0 1439.3,516.3 1446.0,524.0 C1452.7,531.7 1457.2,538.3 1460.0,544.0 C1462.8,549.7 1466.3,553.3 1463.0,558.0 C1459.7,562.7 1450.5,568.3 1440.0,572.0 C1429.5,575.7 1413.3,578.3 1400.0,580.0 C1386.7,581.7 1373.3,582.7 1360.0,582.0 C1346.7,581.3 1333.3,579.0 1320.0,576.0 C1306.7,573.0 1293.3,568.3 1280.0,564.0 C1266.7,559.7 1253.3,554.0 1240.0,550.0 C1226.7,546.0 1215.0,543.5 1200.0,540.0 C1185.0,536.5 1162.5,531.3 1150.0,529.0 C1137.5,526.7 1131.3,525.0 1125.0,526.0 C1118.7,527.0 1115.0,531.0 1112.0,535.0 C1109.0,539.0 1106.5,542.5 1107.0,550.0 C1107.5,557.5 1111.7,571.7 1115.0,580.0 C1118.3,588.3 1123.7,592.5 1127.0,600.0 C1130.3,607.5 1132.0,614.7 1135.0,625.0 C1138.0,635.3 1141.7,649.5 1145.0,662.0 C1148.3,674.5 1151.3,687.5 1155.0,700.0 C1158.7,712.5 1163.3,724.5 1167.0,737.0 C1170.7,749.5 1173.8,762.5 1177.0,775.0 C1180.2,787.5 1183.7,799.5 1186.0,812.0 C1188.3,824.5 1189.5,835.3 1191.0,850.0 C1192.5,864.7 1195.0,887.5 1195.0,900.0 C1195.0,912.5 1192.7,915.0 1191.0,925.0 C1189.3,935.0 1187.5,947.5 1185.0,960.0 C1182.5,972.5 1180.2,986.7 1176.0,1000.0 C1171.8,1013.3 1166.8,1023.8 1160.0,1040.0 C1153.2,1056.2 1143.0,1095.3 1135.0,1097.0 C1127.0,1098.7 1120.0,1066.2 1112.0,1050.0 C1104.0,1033.8 1092.2,1015.0 1087.0,1000.0 C1081.8,985.0 1082.7,972.5 1081.0,960.0 C1079.3,947.5 1078.0,935.0 1077.0,925.0 C1076.0,915.0 1076.2,912.5 1075.0,900.0 C1073.8,887.5 1072.0,866.7 1070.0,850.0 C1068.0,833.3 1065.5,814.7 1063.0,800.0 C1060.5,785.3 1057.7,774.5 1055.0,762.0 C1052.3,749.5 1050.3,737.5 1047.0,725.0 C1043.7,712.5 1039.5,697.8 1035.0,687.0 C1030.5,676.2 1027.5,666.7 1020.0,660.0 C1012.5,653.3 999.7,646.2 990.0,647.0 C980.3,647.8 969.2,658.3 962.0,665.0 C954.8,671.7 950.8,679.2 947.0,687.0 C943.2,694.8 941.7,701.5 939.0,712.0 C936.3,722.5 933.5,735.3 931.0,750.0 C928.5,764.7 926.2,783.3 924.0,800.0 C921.8,816.7 919.8,833.3 918.0,850.0 C916.2,866.7 914.3,886.7 913.0,900.0 C911.7,913.3 911.5,916.7 910.0,930.0 C908.5,943.3 907.3,962.5 904.0,980.0 C900.7,997.5 899.7,1016.0 890.0,1035.0 C880.3,1054.0 856.8,1094.8 846.0,1094.0 C835.2,1093.2 831.7,1049.8 825.0,1030.0 C818.3,1010.2 809.8,991.7 806.0,975.0 C802.2,958.3 802.7,942.5 802.0,930.0 C801.3,917.5 801.5,913.3 802.0,900.0 C802.5,886.7 803.7,866.7 805.0,850.0 C806.3,833.3 807.5,816.7 810.0,800.0 C812.5,783.3 816.3,766.7 820.0,750.0 C823.7,733.3 828.3,716.7 832.0,700.0 C835.7,683.3 837.7,665.8 842.0,650.0 C846.3,634.2 853.7,615.8 858.0,605.0 C862.3,594.2 864.3,594.7 868.0,585.0 C871.7,575.3 878.8,555.8 880.0,547.0 C881.2,538.2 878.8,535.7 875.0,532.0 C871.2,528.3 866.2,525.8 857.0,525.0 C847.8,524.2 834.5,524.5 820.0,527.0 C805.5,529.5 786.7,536.2 770.0,540.0 C753.3,543.8 736.7,547.3 720.0,550.0 C703.3,552.7 686.7,555.2 670.0,556.0 C653.3,556.8 636.7,557.3 620.0,555.0 C603.3,552.7 583.3,547.0 570.0,542.0 C556.7,537.0 543.0,530.3 540.0,525.0 C537.0,519.7 545.0,516.7 552.0,510.0 C559.0,503.3 570.7,493.3 582.0,485.0 C593.3,476.7 605.3,468.0 620.0,460.0 C634.7,452.0 653.3,443.0 670.0,437.0 C686.7,431.0 703.3,426.7 720.0,424.0 C736.7,421.3 751.3,421.7 770.0,421.0 C788.7,420.3 815.3,421.8 832.0,420.0 C848.7,418.2 860.7,415.0 870.0,410.0 C879.3,405.0 884.0,397.5 888.0,390.0 C892.0,382.5 893.3,373.3 894.0,365.0 C894.7,356.7 893.2,350.8 892.0,340.0 C890.8,329.2 887.7,313.3 887.0,300.0 C886.3,286.7 886.2,272.3 888.0,260.0 C889.8,247.7 894.0,236.7 898.0,226.0 C902.0,215.3 906.7,206.3 912.0,196.0 C917.3,185.7 923.7,174.0 930.0,164.0 C936.3,154.0 943.3,145.0 950.0,136.0 C956.7,127.0 963.3,118.3 970.0,110.0 C976.7,101.7 983.3,92.7 990.0,86.0 C996.7,79.3 1003.3,70.3 1010.0,70.0Z" fill="#c4a16a" stroke="#c4a16a" stroke-width="4" stroke-linejoin="round"/>
<path d="M1010.0,85.0 C1016.7,85.0 1023.3,97.8 1030.0,106.0 C1036.7,114.2 1043.7,124.3 1050.0,134.0 C1056.3,143.7 1062.3,153.7 1068.0,164.0 C1073.7,174.3 1079.3,185.7 1084.0,196.0 C1088.7,206.3 1092.7,215.3 1096.0,226.0 C1099.3,236.7 1102.0,247.7 1104.0,260.0 C1106.0,272.3 1106.7,286.7 1108.0,300.0 C1109.3,313.3 1110.5,327.5 1112.0,340.0 C1113.5,352.5 1115.3,364.2 1117.0,375.0 C1118.7,385.8 1118.2,395.5 1122.0,405.0 C1125.8,414.5 1133.3,425.3 1140.0,432.0 C1146.7,438.7 1155.3,442.0 1162.0,445.0 C1168.7,448.0 1167.0,448.5 1180.0,450.0 C1193.0,451.5 1220.0,451.7 1240.0,454.0 C1260.0,456.3 1283.3,460.3 1300.0,464.0 C1316.7,467.7 1326.7,471.0 1340.0,476.0 C1353.3,481.0 1368.3,487.7 1380.0,494.0 C1391.7,500.3 1401.7,507.0 1410.0,514.0 C1418.3,521.0 1424.8,529.3 1430.0,536.0 C1435.2,542.7 1446.0,549.7 1441.0,554.0 C1436.0,558.3 1413.5,560.0 1400.0,562.0 C1386.5,564.0 1373.3,566.0 1360.0,566.0 C1346.7,566.0 1333.3,564.3 1320.0,562.0 C1306.7,559.7 1293.3,556.0 1280.0,552.0 C1266.7,548.0 1253.3,542.3 1240.0,538.0 C1226.7,533.7 1215.0,529.5 1200.0,526.0 C1185.0,522.5 1162.5,518.5 1150.0,517.0 C1137.5,515.5 1131.7,514.8 1125.0,517.0 C1118.3,519.2 1114.2,524.5 1110.0,530.0 C1105.8,535.5 1100.8,542.5 1100.0,550.0 C1099.2,557.5 1102.5,566.7 1105.0,575.0 C1107.5,583.3 1112.2,591.7 1115.0,600.0 C1117.8,608.3 1119.2,614.7 1122.0,625.0 C1124.8,635.3 1128.7,649.5 1132.0,662.0 C1135.3,674.5 1138.2,687.5 1142.0,700.0 C1145.8,712.5 1151.3,724.5 1155.0,737.0 C1158.7,749.5 1161.3,762.5 1164.0,775.0 C1166.7,787.5 1169.0,799.5 1171.0,812.0 C1173.0,824.5 1174.8,835.3 1176.0,850.0 C1177.2,864.7 1178.2,887.5 1178.0,900.0 C1177.8,912.5 1176.3,915.0 1175.0,925.0 C1173.7,935.0 1172.2,947.5 1170.0,960.0 C1167.8,972.5 1165.0,987.2 1162.0,1000.0 C1159.0,1012.8 1156.7,1023.7 1152.0,1037.0 C1147.3,1050.3 1141.2,1080.0 1134.0,1080.0 C1126.8,1080.0 1114.7,1050.3 1109.0,1037.0 C1103.3,1023.7 1102.3,1012.8 1100.0,1000.0 C1097.7,987.2 1096.3,972.5 1095.0,960.0 C1093.7,947.5 1092.8,935.0 1092.0,925.0 C1091.2,915.0 1091.2,912.5 1090.0,900.0 C1088.8,887.5 1086.8,866.7 1085.0,850.0 C1083.2,833.3 1082.2,816.7 1079.0,800.0 C1075.8,783.3 1069.7,764.7 1066.0,750.0 C1062.3,735.3 1060.5,724.5 1057.0,712.0 C1053.5,699.5 1050.3,686.2 1045.0,675.0 C1039.7,663.8 1034.2,652.2 1025.0,645.0 C1015.8,637.8 1001.7,631.2 990.0,632.0 C978.3,632.8 963.7,642.8 955.0,650.0 C946.3,657.2 942.7,666.7 938.0,675.0 C933.3,683.3 930.2,687.5 927.0,700.0 C923.8,712.5 921.8,733.3 919.0,750.0 C916.2,766.7 912.3,783.3 910.0,800.0 C907.7,816.7 906.7,833.3 905.0,850.0 C903.3,866.7 901.8,883.3 900.0,900.0 C898.2,916.7 896.2,935.0 894.0,950.0 C891.8,965.0 891.5,975.0 887.0,990.0 C882.5,1005.0 873.3,1025.3 867.0,1040.0 C860.7,1054.7 853.8,1078.0 849.0,1078.0 C844.2,1078.0 842.8,1057.2 838.0,1040.0 C833.2,1022.8 823.7,993.3 820.0,975.0 C816.3,956.7 816.7,942.5 816.0,930.0 C815.3,917.5 815.3,913.3 816.0,900.0 C816.7,886.7 817.8,866.7 820.0,850.0 C822.2,833.3 826.2,816.7 829.0,800.0 C831.8,783.3 834.0,766.7 837.0,750.0 C840.0,733.3 843.0,716.7 847.0,700.0 C851.0,683.3 856.3,666.7 861.0,650.0 C865.7,633.3 871.2,610.8 875.0,600.0 C878.8,589.2 880.7,593.8 884.0,585.0 C887.3,576.2 894.0,557.0 895.0,547.0 C896.0,537.0 894.2,530.8 890.0,525.0 C885.8,519.2 877.5,514.5 870.0,512.0 C862.5,509.5 857.5,509.0 845.0,510.0 C832.5,511.0 811.7,514.5 795.0,518.0 C778.3,521.5 761.7,527.8 745.0,531.0 C728.3,534.2 711.7,535.5 695.0,537.0 C678.3,538.5 661.7,540.5 645.0,540.0 C628.3,539.5 608.0,536.5 595.0,534.0 C582.0,531.5 567.8,529.8 567.0,525.0 C566.2,520.2 581.2,512.2 590.0,505.0 C598.8,497.8 606.7,490.2 620.0,482.0 C633.3,473.8 653.3,462.7 670.0,456.0 C686.7,449.3 703.3,445.0 720.0,442.0 C736.7,439.0 749.2,439.2 770.0,438.0 C790.8,436.8 826.3,438.0 845.0,435.0 C863.7,432.0 872.3,426.7 882.0,420.0 C891.7,413.3 898.2,404.2 903.0,395.0 C907.8,385.8 909.7,374.2 911.0,365.0 C912.3,355.8 911.8,350.8 911.0,340.0 C910.2,329.2 906.5,313.3 906.0,300.0 C905.5,286.7 906.3,272.3 908.0,260.0 C909.7,247.7 912.3,236.7 916.0,226.0 C919.7,215.3 924.3,206.3 930.0,196.0 C935.7,185.7 943.3,174.3 950.0,164.0 C956.7,153.7 963.3,143.7 970.0,134.0 C976.7,124.3 983.3,114.2 990.0,106.0 C996.7,97.8 1003.3,85.0 1010.0,85.0Z" fill="#4b4341"/>
<g clip-path="url(#darkclip)"><path d="M1010.0,85.0 C1016.7,85.0 1023.3,97.8 1030.0,106.0 C1036.7,114.2 1043.7,124.3 1050.0,134.0 C1056.3,143.7 1062.3,153.7 1068.0,164.0 C1073.7,174.3 1079.3,185.7 1084.0,196.0 C1088.7,206.3 1092.7,215.3 1096.0,226.0 C1099.3,236.7 1102.0,247.7 1104.0,260.0 C1106.0,272.3 1106.7,286.7 1108.0,300.0 C1109.3,313.3 1110.5,327.5 1112.0,340.0 C1113.5,352.5 1115.3,364.2 1117.0,375.0 C1118.7,385.8 1118.2,395.5 1122.0,405.0 C1125.8,414.5 1133.3,425.3 1140.0,432.0 C1146.7,438.7 1155.3,442.0 1162.0,445.0 C1168.7,448.0 1167.0,448.5 1180.0,450.0 C1193.0,451.5 1220.0,451.7 1240.0,454.0 C1260.0,456.3 1283.3,460.3 1300.0,464.0 C1316.7,467.7 1326.7,471.0 1340.0,476.0 C1353.3,481.0 1368.3,487.7 1380.0,494.0 C1391.7,500.3 1401.7,507.0 1410.0,514.0 C1418.3,521.0 1424.8,529.3 1430.0,536.0 C1435.2,542.7 1446.0,549.7 1441.0,554.0 C1436.0,558.3 1413.5,560.0 1400.0,562.0 C1386.5,564.0 1373.3,566.0 1360.0,566.0 C1346.7,566.0 1333.3,564.3 1320.0,562.0 C1306.7,559.7 1293.3,556.0 1280.0,552.0 C1266.7,548.0 1253.3,542.3 1240.0,538.0 C1226.7,533.7 1215.0,529.5 1200.0,526.0 C1185.0,522.5 1162.5,518.5 1150.0,517.0 C1137.5,515.5 1131.7,514.8 1125.0,517.0 C1118.3,519.2 1114.2,524.5 1110.0,530.0 C1105.8,535.5 1100.8,542.5 1100.0,550.0 C1099.2,557.5 1102.5,566.7 1105.0,575.0 C1107.5,583.3 1112.2,591.7 1115.0,600.0 C1117.8,608.3 1119.2,614.7 1122.0,625.0 C1124.8,635.3 1128.7,649.5 1132.0,662.0 C1135.3,674.5 1138.2,687.5 1142.0,700.0 C1145.8,712.5 1151.3,724.5 1155.0,737.0 C1158.7,749.5 1161.3,762.5 1164.0,775.0 C1166.7,787.5 1169.0,799.5 1171.0,812.0 C1173.0,824.5 1174.8,835.3 1176.0,850.0 C1177.2,864.7 1178.2,887.5 1178.0,900.0 C1177.8,912.5 1176.3,915.0 1175.0,925.0 C1173.7,935.0 1172.2,947.5 1170.0,960.0 C1167.8,972.5 1165.0,987.2 1162.0,1000.0 C1159.0,1012.8 1156.7,1023.7 1152.0,1037.0 C1147.3,1050.3 1141.2,1080.0 1134.0,1080.0 C1126.8,1080.0 1114.7,1050.3 1109.0,1037.0 C1103.3,1023.7 1102.3,1012.8 1100.0,1000.0 C1097.7,987.2 1096.3,972.5 1095.0,960.0 C1093.7,947.5 1092.8,935.0 1092.0,925.0 C1091.2,915.0 1091.2,912.5 1090.0,900.0 C1088.8,887.5 1086.8,866.7 1085.0,850.0 C1083.2,833.3 1082.2,816.7 1079.0,800.0 C1075.8,783.3 1069.7,764.7 1066.0,750.0 C1062.3,735.3 1060.5,724.5 1057.0,712.0 C1053.5,699.5 1050.3,686.2 1045.0,675.0 C1039.7,663.8 1034.2,652.2 1025.0,645.0 C1015.8,637.8 1001.7,631.2 990.0,632.0 C978.3,632.8 963.7,642.8 955.0,650.0 C946.3,657.2 942.7,666.7 938.0,675.0 C933.3,683.3 930.2,687.5 927.0,700.0 C923.8,712.5 921.8,733.3 919.0,750.0 C916.2,766.7 912.3,783.3 910.0,800.0 C907.7,816.7 906.7,833.3 905.0,850.0 C903.3,866.7 901.8,883.3 900.0,900.0 C898.2,916.7 896.2,935.0 894.0,950.0 C891.8,965.0 891.5,975.0 887.0,990.0 C882.5,1005.0 873.3,1025.3 867.0,1040.0 C860.7,1054.7 853.8,1078.0 849.0,1078.0 C844.2,1078.0 842.8,1057.2 838.0,1040.0 C833.2,1022.8 823.7,993.3 820.0,975.0 C816.3,956.7 816.7,942.5 816.0,930.0 C815.3,917.5 815.3,913.3 816.0,900.0 C816.7,886.7 817.8,866.7 820.0,850.0 C822.2,833.3 826.2,816.7 829.0,800.0 C831.8,783.3 834.0,766.7 837.0,750.0 C840.0,733.3 843.0,716.7 847.0,700.0 C851.0,683.3 856.3,666.7 861.0,650.0 C865.7,633.3 871.2,610.8 875.0,600.0 C878.8,589.2 880.7,593.8 884.0,585.0 C887.3,576.2 894.0,557.0 895.0,547.0 C896.0,537.0 894.2,530.8 890.0,525.0 C885.8,519.2 877.5,514.5 870.0,512.0 C862.5,509.5 857.5,509.0 845.0,510.0 C832.5,511.0 811.7,514.5 795.0,518.0 C778.3,521.5 761.7,527.8 745.0,531.0 C728.3,534.2 711.7,535.5 695.0,537.0 C678.3,538.5 661.7,540.5 645.0,540.0 C628.3,539.5 608.0,536.5 595.0,534.0 C582.0,531.5 567.8,529.8 567.0,525.0 C566.2,520.2 581.2,512.2 590.0,505.0 C598.8,497.8 606.7,490.2 620.0,482.0 C633.3,473.8 653.3,462.7 670.0,456.0 C686.7,449.3 703.3,445.0 720.0,442.0 C736.7,439.0 749.2,439.2 770.0,438.0 C790.8,436.8 826.3,438.0 845.0,435.0 C863.7,432.0 872.3,426.7 882.0,420.0 C891.7,413.3 898.2,404.2 903.0,395.0 C907.8,385.8 909.7,374.2 911.0,365.0 C912.3,355.8 911.8,350.8 911.0,340.0 C910.2,329.2 906.5,313.3 906.0,300.0 C905.5,286.7 906.3,272.3 908.0,260.0 C909.7,247.7 912.3,236.7 916.0,226.0 C919.7,215.3 924.3,206.3 930.0,196.0 C935.7,185.7 943.3,174.3 950.0,164.0 C956.7,153.7 963.3,143.7 970.0,134.0 C976.7,124.3 983.3,114.2 990.0,106.0 C996.7,97.8 1003.3,85.0 1010.0,85.0Z" fill="none" stroke="#1c1514" stroke-width="24" filter="url(#b6)" opacity="0.85"/></g>
<path d="M600.0,444.0 L618.0,426.0 L640.0,416.0 L666.0,403.0 L678.0,390.0 L690.0,388.0 L694.0,394.0 L704.0,398.0 L714.0,410.0 L708.0,422.0 L688.0,430.0 L660.0,440.0 L636.0,452.0 L620.0,458.0 L608.0,454.0Z" fill="#45a7c6" filter="url(#rough)"/>
<path d="M1335.0,422.0 L1355.0,435.0 L1375.0,452.0 L1402.0,467.0 L1397.0,476.0 L1375.0,470.0 L1335.0,452.0 L1330.0,440.0Z" fill="#45a7c6" filter="url(#rough)"/>
<path d="M1127.0,562.0 L1175.0,572.0 L1177.0,605.0 L1172.0,635.0 L1145.0,637.0 L1137.0,605.0Z" fill="#45a7c6" filter="url(#rough)"/>
<path d="M912.0,912.0 L935.0,915.0 L932.0,960.0 L928.0,975.0 L910.0,978.0Z" fill="#45a7c6" filter="url(#rough)"/>
<path d="M617,440 l8,-10 M648,418 l6,-9 M683,396 l3,-8 M702,402 l10,-3 M700,420 l9,4 M672,432 l4,8 M640,445 l3,8 M1340,432 l12,3 M1372,452 l1,-9 M1392,470 l3,-8 M1134,578 l3,5 M1172,590 l-9,4 M1172,615 l-9,2 M1148,632 l-4,-7 M930,922 l8,-3 M928,950 l8,-1" stroke="#0b1a24" stroke-width="1.6" stroke-linecap="round" fill="none"/>
<g clip-path="url(#darkclip)">
<path d="M975.0,462.0 L972.1,461.4 L969.2,460.7 L966.2,460.0 L963.3,459.3 L960.4,458.6 L957.5,457.9 L954.5,457.3 L951.6,456.7 L948.6,456.2 L945.7,455.7 L942.7,455.3 L939.7,455.0 L936.7,454.7 L933.7,454.5 L930.7,454.4 L927.7,454.2 L924.7,454.2 L921.7,454.1 L918.7,454.1 L915.7,454.2 L912.7,454.3 L909.8,454.4 L906.8,454.5 L903.8,454.7 L900.8,454.9 L897.8,455.2 L894.8,455.5 L891.8,455.8 L888.8,456.2 L885.9,456.5 L882.9,456.9 L879.9,457.4 L876.9,457.8 L874.0,458.3 L871.0,458.7 L868.1,459.2 L865.1,459.6 L862.1,460.1 L859.2,460.6 L856.2,461.0 L853.2,461.5 L850.3,462.0 L847.3,462.4 L844.3,462.9 L841.4,463.3 L838.4,463.7 L835.4,464.2 L832.5,464.7 L829.5,465.1 L826.5,465.6 L823.6,466.0 L820.6,466.5 L817.7,467.0 L814.7,467.5 L811.7,468.0 L808.8,468.5 L805.8,469.0 L802.9,469.5 L799.9,470.0 L797.0,470.6 L794.0,471.1 L791.1,471.7 L788.1,472.2 L785.2,472.8 L782.2,473.4 L779.3,474.0 L776.3,474.5 L773.4,475.1 L770.5,475.7 L767.5,476.3 L764.6,476.9 L761.6,477.5 L758.7,478.2 L755.8,478.8 L752.8,479.4 L749.9,480.0 L747.0,480.7 L744.0,481.3 L741.1,482.0 L738.2,482.7 L735.3,483.4 L732.4,484.1 L729.5,484.9 L726.6,485.6 L725.6,485.9" fill="none" stroke="#000" stroke-width="34.5" stroke-linecap="round" stroke-linejoin="round"/>
<path d="M975.0,462.0 L972.1,461.4 L969.2,460.7 L966.2,460.0 L963.3,459.3 L960.4,458.6 L957.5,457.9 L954.5,457.3 L951.6,456.7 L948.6,456.2 L945.7,455.7 L942.7,455.3 L939.7,455.0 L936.7,454.7 L933.7,454.5 L930.7,454.4 L927.7,454.2 L924.7,454.2 L921.7,454.1 L918.7,454.1 L915.7,454.2 L912.7,454.3 L909.8,454.4 L906.8,454.5 L903.8,454.7 L900.8,454.9 L897.8,455.2 L894.8,455.5 L891.8,455.8 L888.8,456.2 L885.9,456.5 L882.9,456.9 L879.9,457.4 L876.9,457.8 L874.0,458.3 L871.0,458.7 L868.1,459.2 L865.1,459.6 L862.1,460.1 L859.2,460.6 L856.2,461.0 L853.2,461.5 L850.3,462.0 L847.3,462.4 L844.3,462.9 L841.4,463.3 L838.4,463.7 L835.4,464.2 L832.5,464.7 L829.5,465.1 L826.5,465.6 L823.6,466.0 L820.6,466.5 L817.7,467.0 L814.7,467.5 L811.7,468.0 L808.8,468.5 L805.8,469.0 L802.9,469.5 L799.9,470.0 L797.0,470.6 L794.0,471.1 L791.1,471.7 L788.1,472.2 L785.2,472.8 L782.2,473.4 L779.3,474.0 L776.3,474.5 L773.4,475.1 L770.5,475.7 L767.5,476.3 L764.6,476.9 L761.6,477.5 L758.7,478.2 L755.8,478.8 L752.8,479.4 L749.9,480.0 L747.0,480.7 L744.0,481.3 L741.1,482.0 L738.2,482.7 L735.3,483.4 L732.4,484.1 L729.5,484.9 L726.6,485.6 L725.6,485.9" fill="none" stroke="#fff" stroke-width="24.5" stroke-linecap="round" stroke-linejoin="round"/>
<path d="M974.0,461.8 L970.0,456.9 L966.0,452.3 L961.7,448.2 L957.1,444.8 L952.1,442.3 L945.7,440.8 M969.8,476.0 L964.9,474.3 L960.4,471.7 L956.2,468.3 L952.1,464.3 L948.0,460.0 L942.7,455.3 L938.0,451.0 L933.2,447.1 L928.1,443.8 L922.9,441.4 L917.5,439.9 L911.2,439.6 M940.0,469.8 L935.6,468.9 L931.1,467.2 L926.5,464.6 L921.7,461.5 L916.8,458.0 L910.8,454.3 L905.5,450.8 L900.2,447.6 L894.8,445.0 L889.3,443.2 L884.0,442.4 L877.8,442.8 M910.4,469.1 L905.7,468.9 L900.8,467.8 L895.9,465.8 L890.7,463.4 L885.4,460.5 L878.9,457.5 L873.4,454.5 L867.9,451.7 L862.5,449.5 L857.2,448.0 L852.0,447.3 L846.1,447.7 M880.1,472.2 L875.2,472.5 L870.0,471.8 L864.7,470.3 L859.3,468.0 L853.8,465.3 L847.3,462.4 L841.8,459.4 L836.3,456.6 L830.9,454.3 L825.6,452.8 L820.4,452.1 L814.3,452.6 M848.5,477.1 L843.5,477.4 L838.3,476.7 L833.1,475.1 L827.7,472.9 L822.2,470.1 L815.7,467.3 L810.1,464.4 L804.6,461.7 L799.1,459.6 L793.7,458.2 L788.4,457.7 L782.3,458.3 M817.1,482.0 L812.1,482.3 L807.0,481.7 L801.8,480.3 L796.3,478.2 L790.8,475.6 L784.2,473.0 L778.5,470.2 L772.9,467.7 L767.4,465.7 L762.0,464.4 L756.8,464.0 L750.8,464.8 M786.0,487.6 L781.1,488.1 L775.9,487.7 L770.6,486.3 L765.1,484.4 L759.5,481.9 L752.8,479.4 L747.1,476.7 L741.4,474.3 L735.8,472.5 L730.2,471.5 L725.0,471.3 M754.9,494.0 L750.0,494.6 L745.0,494.2 L739.7,493.1 L734.2,491.3 L728.5,489.1" fill="none" stroke="#000" stroke-width="4.8" stroke-linecap="round" stroke-linejoin="round"/>
<path d="M1005.0,445.0 L1008.0,445.1 L1011.0,445.3 L1014.0,445.4 L1017.0,445.5 L1020.0,445.6 L1023.0,445.7 L1026.0,445.8 L1029.0,445.9 L1032.0,446.1 L1035.0,446.2 L1038.0,446.3 L1041.0,446.5 L1044.0,446.7 L1047.0,446.9 L1049.9,447.1 L1052.9,447.3 L1055.9,447.6 L1058.9,447.9 L1061.9,448.2 L1064.9,448.6 L1067.8,449.0 L1070.8,449.4 L1073.8,449.9 L1076.7,450.4 L1079.7,450.9 L1082.7,451.4 L1085.6,451.9 L1088.5,452.5 L1091.5,453.1 L1094.4,453.7 L1097.4,454.3 L1100.3,454.9 L1103.2,455.5 L1106.2,456.2 L1109.1,456.8 L1112.0,457.4 L1115.0,458.1 L1117.9,458.8 L1120.8,459.5 L1123.7,460.2 L1126.6,460.9 L1129.5,461.6 L1132.5,462.3 L1135.4,463.1 L1138.3,463.9 L1141.2,464.6 L1144.0,465.4 L1146.9,466.2 L1149.8,467.0 L1152.7,467.9 L1155.6,468.7 L1158.5,469.5 L1161.3,470.4 L1164.2,471.3 L1167.1,472.2 L1169.9,473.1 L1172.8,474.0 L1175.7,474.9 L1178.5,475.8 L1181.4,476.8 L1184.2,477.7 L1187.0,478.7 L1189.9,479.7 L1192.7,480.7 L1195.5,481.7 L1198.4,482.7 L1201.2,483.7 L1204.0,484.7 L1206.8,485.8 L1209.6,486.9 L1212.4,487.9 L1215.2,489.0 L1218.0,490.1 L1220.8,491.2 L1223.6,492.4 L1226.3,493.5 L1229.1,494.7 L1231.9,495.8 L1234.6,497.0 L1237.4,498.2 L1240.1,499.4 L1242.9,500.5 L1245.7,501.7 L1248.4,502.9 L1251.2,504.1 L1253.9,505.3 L1256.7,506.5 L1259.4,507.7 L1262.1,508.9 L1264.9,510.2 L1267.6,511.4 L1270.3,512.7 L1273.1,513.9 L1275.8,515.2 L1278.5,516.5 L1281.2,517.8 L1283.9,519.1 L1286.6,520.4 L1289.3,521.7 L1289.3,521.7" fill="none" stroke="#000" stroke-width="34.5" stroke-linecap="round" stroke-linejoin="round"/>
<path d="M1005.0,445.0 L1008.0,445.1 L1011.0,445.3 L1014.0,445.4 L1017.0,445.5 L1020.0,445.6 L1023.0,445.7 L1026.0,445.8 L1029.0,445.9 L1032.0,446.1 L1035.0,446.2 L1038.0,446.3 L1041.0,446.5 L1044.0,446.7 L1047.0,446.9 L1049.9,447.1 L1052.9,447.3 L1055.9,447.6 L1058.9,447.9 L1061.9,448.2 L1064.9,448.6 L1067.8,449.0 L1070.8,449.4 L1073.8,449.9 L1076.7,450.4 L1079.7,450.9 L1082.7,451.4 L1085.6,451.9 L1088.5,452.5 L1091.5,453.1 L1094.4,453.7 L1097.4,454.3 L1100.3,454.9 L1103.2,455.5 L1106.2,456.2 L1109.1,456.8 L1112.0,457.4 L1115.0,458.1 L1117.9,458.8 L1120.8,459.5 L1123.7,460.2 L1126.6,460.9 L1129.5,461.6 L1132.5,462.3 L1135.4,463.1 L1138.3,463.9 L1141.2,464.6 L1144.0,465.4 L1146.9,466.2 L1149.8,467.0 L1152.7,467.9 L1155.6,468.7 L1158.5,469.5 L1161.3,470.4 L1164.2,471.3 L1167.1,472.2 L1169.9,473.1 L1172.8,474.0 L1175.7,474.9 L1178.5,475.8 L1181.4,476.8 L1184.2,477.7 L1187.0,478.7 L1189.9,479.7 L1192.7,480.7 L1195.5,481.7 L1198.4,482.7 L1201.2,483.7 L1204.0,484.7 L1206.8,485.8 L1209.6,486.9 L1212.4,487.9 L1215.2,489.0 L1218.0,490.1 L1220.8,491.2 L1223.6,492.4 L1226.3,493.5 L1229.1,494.7 L1231.9,495.8 L1234.6,497.0 L1237.4,498.2 L1240.1,499.4 L1242.9,500.5 L1245.7,501.7 L1248.4,502.9 L1251.2,504.1 L1253.9,505.3 L1256.7,506.5 L1259.4,507.7 L1262.1,508.9 L1264.9,510.2 L1267.6,511.4 L1270.3,512.7 L1273.1,513.9 L1275.8,515.2 L1278.5,516.5 L1281.2,517.8 L1283.9,519.1 L1286.6,520.4 L1289.3,521.7 L1289.3,521.7" fill="none" stroke="#fff" stroke-width="24.5" stroke-linecap="round" stroke-linejoin="round"/>
<path d="M1006.4,459.3 L1012.5,460.1 M1008.2,441.3 L1014.0,445.4 L1018.9,449.4 L1023.7,453.1 L1028.5,456.3 L1033.4,458.9 L1038.2,460.6 L1044.0,461.5 M1015.5,430.7 L1020.5,431.3 L1025.5,433.0 L1030.4,435.5 L1035.3,438.8 L1040.2,442.6 L1046.0,446.8 L1050.7,451.0 L1055.2,454.9 L1059.7,458.5 L1064.2,461.4 L1068.7,463.5 L1074.3,464.9 M1047.9,432.1 L1053.1,433.0 L1058.2,435.0 L1063.1,437.9 L1067.8,441.6 L1072.4,445.8 L1077.7,450.5 L1082.0,455.1 L1086.2,459.5 L1090.4,463.5 L1094.8,466.8 L1099.3,469.2 L1105.0,471.0 M1081.2,436.2 L1086.2,437.6 L1091.0,440.0 L1095.5,443.2 L1099.9,447.3 L1104.0,451.8 L1109.1,456.8 L1113.1,461.6 L1117.2,466.2 L1121.3,470.3 L1125.5,473.8 L1129.9,476.4 L1135.4,478.4 M1113.3,442.6 L1118.1,444.2 L1122.8,446.8 L1127.2,450.3 L1131.3,454.5 L1135.3,459.1 L1140.2,464.4 L1144.0,469.4 L1147.8,474.1 L1151.7,478.4 L1155.8,482.1 L1160.0,484.9 L1165.5,487.1 M1145.0,450.4 L1149.8,452.2 L1154.3,455.0 L1158.5,458.7 L1162.5,463.1 L1166.3,467.9 L1170.9,473.4 L1174.5,478.5 L1178.1,483.5 L1181.8,487.9 L1185.7,491.7 L1189.8,494.8 L1195.2,497.2 M1176.3,459.6 L1181.0,461.7 L1185.4,464.7 L1189.5,468.5 L1193.3,473.0 L1196.8,478.1 L1201.2,483.7 L1204.5,489.0 L1207.9,494.1 L1211.4,498.7 L1215.1,502.7 L1219.1,505.9 L1224.3,508.7 M1207.2,470.2 L1211.8,472.5 L1216.1,475.6 L1220.0,479.7 L1223.5,484.4 L1226.9,489.6 L1230.9,495.4 L1234.1,500.9 L1237.2,506.1 L1240.6,510.9 L1244.2,515.0 L1248.2,518.4 L1253.5,521.2 M1237.6,482.2 L1242.1,484.7 L1246.1,488.0 L1249.8,492.2 L1253.2,497.0 L1256.4,502.2 L1260.3,508.1 L1263.3,513.7 L1266.4,518.9 L1269.5,523.8 L1273.0,528.0 L1276.8,531.5 L1282.1,534.6 M1267.2,495.0 L1271.7,497.6 L1275.7,501.1 L1279.3,505.3 L1282.6,510.3 L1285.6,515.6 L1289.3,521.7" fill="none" stroke="#000" stroke-width="4.8" stroke-linecap="round" stroke-linejoin="round"/>
<path d="M985.0,410.0 L983.2,407.6 L981.3,405.3 L979.4,402.9 L977.6,400.5 L975.9,398.1 L974.2,395.6 L972.6,393.1 L971.1,390.5 L969.7,387.8 L968.3,385.2 L966.9,382.5 L965.6,379.8 L964.2,377.1 L963.0,374.4 L961.8,371.7 L960.6,368.9 L959.5,366.1 L958.5,363.3 L957.5,360.5 L956.6,357.6 L955.7,354.7 L954.8,351.9 L954.0,349.0 L953.3,346.1 L952.5,343.2 L951.9,340.2 L951.2,337.3 L950.6,334.4 L950.1,331.4 L949.5,328.5 L949.1,325.5 L948.7,322.5 L948.3,319.6 L947.9,316.6 L947.7,313.6 L947.4,310.6 L947.2,307.6 L947.1,304.6 L946.9,301.6 L946.9,298.6 L946.8,295.6 L946.9,292.6 L946.9,289.6 L947.0,286.6 L947.2,283.6 L947.3,280.6 L947.6,277.6 L947.8,274.6 L948.1,271.7 L948.4,268.7 L948.8,265.7 L949.3,262.7 L949.8,259.8 L950.3,256.8 L951.0,253.9 L951.7,251.0 L952.6,248.1 L953.6,245.3 L954.8,242.6 L956.2,239.9 L957.6,237.2 L959.1,234.7 L960.7,232.1 L962.3,229.6 L963.8,227.0 L965.3,224.4 L966.8,221.8 L968.3,219.2 L969.9,216.6 L971.4,214.1 L973.0,211.5 L974.6,208.9 L976.2,206.4 L976.7,205.5" fill="none" stroke="#000" stroke-width="38.0" stroke-linecap="round" stroke-linejoin="round"/>
<path d="M985.0,410.0 L983.2,407.6 L981.3,405.3 L979.4,402.9 L977.6,400.5 L975.9,398.1 L974.2,395.6 L972.6,393.1 L971.1,390.5 L969.7,387.8 L968.3,385.2 L966.9,382.5 L965.6,379.8 L964.2,377.1 L963.0,374.4 L961.8,371.7 L960.6,368.9 L959.5,366.1 L958.5,363.3 L957.5,360.5 L956.6,357.6 L955.7,354.7 L954.8,351.9 L954.0,349.0 L953.3,346.1 L952.5,343.2 L951.9,340.2 L951.2,337.3 L950.6,334.4 L950.1,331.4 L949.5,328.5 L949.1,325.5 L948.7,322.5 L948.3,319.6 L947.9,316.6 L947.7,313.6 L947.4,310.6 L947.2,307.6 L947.1,304.6 L946.9,301.6 L946.9,298.6 L946.8,295.6 L946.9,292.6 L946.9,289.6 L947.0,286.6 L947.2,283.6 L947.3,280.6 L947.6,277.6 L947.8,274.6 L948.1,271.7 L948.4,268.7 L948.8,265.7 L949.3,262.7 L949.8,259.8 L950.3,256.8 L951.0,253.9 L951.7,251.0 L952.6,248.1 L953.6,245.3 L954.8,242.6 L956.2,239.9 L957.6,237.2 L959.1,234.7 L960.7,232.1 L962.3,229.6 L963.8,227.0 L965.3,224.4 L966.8,221.8 L968.3,219.2 L969.9,216.6 L971.4,214.1 L973.0,211.5 L974.6,208.9 L976.2,206.4 L976.7,205.5" fill="none" stroke="#fff" stroke-width="28.0" stroke-linecap="round" stroke-linejoin="round"/>
<path d="M997.7,400.4 L996.0,397.3 M971.8,419.9 L971.3,418.3 L971.4,415.8 L971.5,411.8 L972.9,408.0 L974.8,403.9 L976.4,398.9 L978.8,394.9 L981.1,391.1 L982.7,387.2 L984.1,384.3 L984.6,381.9 L983.8,379.1 M956.2,397.5 L955.7,395.4 L956.1,392.8 L957.0,388.8 L959.1,385.3 L961.7,381.7 L964.2,377.1 L967.3,373.5 L970.1,370.1 L972.1,366.2 L973.8,363.5 L974.7,361.2 L974.3,358.6 M944.5,373.1 L944.2,370.8 L945.0,368.1 L946.4,364.2 L949.0,361.1 L952.2,357.9 L955.4,353.8 L958.9,350.7 L962.2,347.8 L964.8,344.1 L966.9,341.6 L968.0,339.4 L968.0,336.6 M936.5,347.0 L936.6,344.8 L937.7,342.4 L939.6,338.7 L942.5,336.0 L946.0,333.2 L949.7,329.5 L953.6,326.8 L957.2,324.3 L960.2,321.0 L962.6,318.8 L964.0,316.8 L964.3,314.0 M931.8,320.4 L932.1,318.2 L933.5,315.9 L935.9,312.5 L939.1,310.2 L943.0,307.9 L947.1,304.6 L951.2,302.5 L955.2,300.4 L958.5,297.5 L961.1,295.6 L962.8,293.7 L963.4,291.0 M930.3,293.5 L930.9,291.3 L932.6,289.2 L935.4,286.1 L938.9,284.2 L942.9,282.4 L947.4,279.6 L951.8,278.0 L955.9,276.4 L959.6,273.8 L962.4,272.2 L964.3,270.6 L965.2,268.0 M932.1,266.7 L932.9,264.6 L934.8,262.7 L937.9,259.8 L941.6,258.3 L945.9,257.0 L950.8,254.9 L955.4,254.0 L959.7,253.2 L963.7,251.8 L966.6,251.3 L968.7,250.6 L970.1,248.9 M938.8,237.9 L940.4,235.8 L942.9,234.3 L946.9,232.4 L951.0,232.2 L955.5,232.4 L960.7,232.1 L965.4,232.7 L969.8,233.0 L974.5,232.0 L977.8,231.4 L980.2,230.6 L982.1,228.4 M952.0,214.5 L953.6,212.9 L956.0,211.9 L959.9,210.6 L963.9,210.6 L968.3,211.0 L973.5,210.7 L978.2,211.2 L982.6,211.6" fill="none" stroke="#000" stroke-width="4.8" stroke-linecap="round" stroke-linejoin="round"/>
<path d="M1025.0,138.0 L1027.4,139.7 L1029.9,141.4 L1032.4,143.1 L1034.9,144.8 L1037.3,146.5 L1039.7,148.3 L1042.1,150.2 L1044.3,152.2 L1046.5,154.3 L1048.4,156.5 L1050.3,158.9 L1052.0,161.4 L1053.6,163.9 L1055.1,166.5 L1056.5,169.1 L1057.9,171.8 L1059.3,174.5 L1060.6,177.2 L1061.8,179.9 L1063.0,182.7 L1064.2,185.4 L1065.3,188.2 L1066.4,191.0 L1067.4,193.8 L1068.3,196.7 L1069.2,199.6 L1070.1,202.4 L1070.8,205.3 L1071.5,208.2 L1072.2,211.2 L1072.8,214.1 L1073.4,217.1 L1073.9,220.0 L1074.4,223.0 L1074.9,225.9 L1075.3,228.9 L1075.7,231.9 L1076.0,234.9 L1076.3,237.8 L1076.5,240.8 L1076.7,243.8 L1076.9,246.8 L1077.0,249.8 L1077.1,252.8 L1077.1,255.8 L1077.1,258.8 L1077.1,261.8 L1077.0,264.8 L1076.9,267.8 L1076.7,270.8 L1076.5,273.8 L1076.3,276.8 L1076.0,279.8 L1075.6,282.8 L1075.2,285.7 L1074.7,288.7 L1074.2,291.6 L1073.6,294.6 L1072.9,297.5 L1072.2,300.4 L1071.5,303.3 L1070.7,306.2 L1069.9,309.1 L1069.1,312.0 L1068.3,314.9 L1067.4,317.8 L1066.5,320.6 L1065.5,323.5 L1064.6,326.3 L1063.5,329.1 L1062.5,331.9 L1061.4,334.7 L1060.2,337.5 L1059.1,340.3 L1057.8,343.0 L1056.6,345.7 L1055.3,348.4 L1054.0,351.1 L1052.6,353.8 L1051.2,356.5 L1049.9,359.1 L1048.5,361.8 L1047.0,364.4 L1045.5,367.0 L1044.0,369.6 L1042.4,372.1 L1040.8,374.7 L1039.1,377.1 L1037.3,379.6 L1035.5,382.0 L1033.6,384.3 L1031.7,386.6 L1029.7,388.9 L1027.7,391.1 L1025.7,393.3 L1023.7,395.5 L1021.7,397.7 L1019.6,399.9 L1017.6,402.1 L1015.6,404.4 L1015.6,404.4" fill="none" stroke="#000" stroke-width="38.0" stroke-linecap="round" stroke-linejoin="round"/>
<path d="M1025.0,138.0 L1027.4,139.7 L1029.9,141.4 L1032.4,143.1 L1034.9,144.8 L1037.3,146.5 L1039.7,148.3 L1042.1,150.2 L1044.3,152.2 L1046.5,154.3 L1048.4,156.5 L1050.3,158.9 L1052.0,161.4 L1053.6,163.9 L1055.1,166.5 L1056.5,169.1 L1057.9,171.8 L1059.3,174.5 L1060.6,177.2 L1061.8,179.9 L1063.0,182.7 L1064.2,185.4 L1065.3,188.2 L1066.4,191.0 L1067.4,193.8 L1068.3,196.7 L1069.2,199.6 L1070.1,202.4 L1070.8,205.3 L1071.5,208.2 L1072.2,211.2 L1072.8,214.1 L1073.4,217.1 L1073.9,220.0 L1074.4,223.0 L1074.9,225.9 L1075.3,228.9 L1075.7,231.9 L1076.0,234.9 L1076.3,237.8 L1076.5,240.8 L1076.7,243.8 L1076.9,246.8 L1077.0,249.8 L1077.1,252.8 L1077.1,255.8 L1077.1,258.8 L1077.1,261.8 L1077.0,264.8 L1076.9,267.8 L1076.7,270.8 L1076.5,273.8 L1076.3,276.8 L1076.0,279.8 L1075.6,282.8 L1075.2,285.7 L1074.7,288.7 L1074.2,291.6 L1073.6,294.6 L1072.9,297.5 L1072.2,300.4 L1071.5,303.3 L1070.7,306.2 L1069.9,309.1 L1069.1,312.0 L1068.3,314.9 L1067.4,317.8 L1066.5,320.6 L1065.5,323.5 L1064.6,326.3 L1063.5,329.1 L1062.5,331.9 L1061.4,334.7 L1060.2,337.5 L1059.1,340.3 L1057.8,343.0 L1056.6,345.7 L1055.3,348.4 L1054.0,351.1 L1052.6,353.8 L1051.2,356.5 L1049.9,359.1 L1048.5,361.8 L1047.0,364.4 L1045.5,367.0 L1044.0,369.6 L1042.4,372.1 L1040.8,374.7 L1039.1,377.1 L1037.3,379.6 L1035.5,382.0 L1033.6,384.3 L1031.7,386.6 L1029.7,388.9 L1027.7,391.1 L1025.7,393.3 L1023.7,395.5 L1021.7,397.7 L1019.6,399.9 L1017.6,402.1 L1015.6,404.4 L1015.6,404.4" fill="none" stroke="#fff" stroke-width="28.0" stroke-linecap="round" stroke-linejoin="round"/>
<path d="M1020.0,148.8 L1020.3,152.2 L1021.1,154.7 L1023.2,156.7 M1039.1,127.7 L1040.5,129.3 L1041.3,131.8 L1042.5,135.8 L1042.2,139.9 L1041.5,144.3 L1041.3,149.6 L1040.0,154.1 L1038.7,158.2 L1038.0,162.3 L1036.9,165.0 L1036.5,167.1 L1037.3,169.2 M1062.1,147.2 L1063.2,149.6 L1063.2,152.5 L1062.9,156.9 L1061.2,160.6 L1058.8,164.4 L1056.5,169.1 L1053.7,172.9 L1051.0,176.4 L1049.2,180.4 L1047.6,183.2 L1046.9,185.6 L1047.5,188.4 M1076.4,172.2 L1076.8,174.4 L1076.1,177.0 L1074.9,180.9 L1072.6,184.2 L1069.7,187.6 L1066.7,192.0 L1063.4,195.2 L1060.2,198.3 L1057.8,202.0 L1055.8,204.5 L1054.7,206.7 L1054.8,209.4 M1086.0,198.1 L1086.0,200.3 L1084.9,202.9 L1083.1,206.6 L1080.3,209.4 L1076.8,212.3 L1073.2,216.1 L1069.4,218.8 L1065.8,221.4 L1062.9,224.8 L1060.6,227.1 L1059.2,229.1 L1059.1,232.0 M1091.4,224.6 L1091.1,226.8 L1089.7,229.2 L1087.5,232.6 L1084.3,235.0 L1080.5,237.5 L1076.5,240.8 L1072.4,243.1 L1068.5,245.3 L1065.3,248.3 L1062.7,250.2 L1061.1,252.2 L1060.6,255.0 M1093.5,251.5 L1093.0,253.6 L1091.4,255.7 L1088.8,258.9 L1085.3,260.9 L1081.3,262.9 L1077.0,265.8 L1072.6,267.6 L1068.6,269.4 L1065.0,272.0 L1062.2,273.6 L1060.4,275.3 L1059.6,277.9 M1092.7,278.3 L1091.9,280.5 L1090.1,282.5 L1087.0,285.3 L1083.4,287.0 L1079.1,288.4 L1074.4,290.7 L1069.8,291.8 L1065.5,292.9 L1061.6,294.9 L1058.6,296.1 L1056.5,297.6 L1055.3,300.1 M1088.0,305.4 L1086.9,307.3 L1084.8,309.0 L1081.4,311.3 L1077.6,312.4 L1073.2,313.2 L1068.3,314.9 L1063.6,315.5 L1059.2,316.2 L1055.1,317.9 L1052.0,318.9 L1049.8,320.2 L1048.4,322.6 M1080.5,330.7 L1079.3,332.6 L1077.0,334.0 L1073.4,336.1 L1069.4,336.8 L1065.0,337.3 L1059.9,338.4 L1055.1,338.5 L1050.7,338.7 L1046.4,339.9 L1043.2,340.5 L1040.9,341.5 L1039.2,343.8 M1070.1,355.6 L1068.7,357.3 L1066.3,358.4 L1062.6,360.0 L1058.6,360.2 L1054.1,360.2 L1048.9,360.9 L1044.2,360.6 L1039.8,360.4 L1035.4,361.1 L1032.3,361.4 L1029.9,362.1 L1028.0,364.0 M1057.5,379.1 L1055.8,380.7 L1053.3,381.7 L1049.2,382.9 L1045.2,382.7 L1040.8,382.1 L1035.5,382.0 L1030.9,380.8 L1026.7,379.8 L1022.2,379.7 L1019.0,379.4 L1016.5,379.8 L1014.2,381.5 M1040.7,401.3 L1038.9,402.5 L1036.3,402.9 L1032.3,403.4 L1028.4,402.6 L1024.1,401.4 L1019.0,400.7 L1014.5,399.3 L1010.1,398.1" fill="none" stroke="#000" stroke-width="4.8" stroke-linecap="round" stroke-linejoin="round"/>
<path d="M958.0,520.0 L959.1,522.8 L960.1,525.6 L961.0,528.5 L962.0,531.3 L963.0,534.1 L964.1,536.9 L965.3,539.7 L966.6,542.4 L968.1,545.0 L969.8,547.5 L971.7,549.7 L974.0,551.6 L976.6,553.2 L979.3,554.5 L982.0,555.7 L984.9,556.7 L987.7,557.7 L990.6,558.5 L993.5,559.3 L996.4,560.1 L999.3,560.9 L1002.2,561.7 L1002.2,561.7" fill="none" stroke="#000" stroke-width="34.0" stroke-linecap="round" stroke-linejoin="round"/>
<path d="M958.0,520.0 L959.1,522.8 L960.1,525.6 L961.0,528.5 L962.0,531.3 L963.0,534.1 L964.1,536.9 L965.3,539.7 L966.6,542.4 L968.1,545.0 L969.8,547.5 L971.7,549.7 L974.0,551.6 L976.6,553.2 L979.3,554.5 L982.0,555.7 L984.9,556.7 L987.7,557.7 L990.6,558.5 L993.5,559.3 L996.4,560.1 L999.3,560.9 L1002.2,561.7 L1002.2,561.7" fill="none" stroke="#fff" stroke-width="24.0" stroke-linecap="round" stroke-linejoin="round"/>
<path d="M945.4,526.2 L945.7,528.4 M964.7,517.1 L962.6,521.5 L960.1,525.6 L957.5,529.7 L955.2,533.7 L953.4,537.8 L952.5,541.7 L952.6,545.5 L953.7,549.1 M974.4,522.9 L974.9,525.8 L974.5,528.9 L973.3,532.2 L971.5,535.8 L969.5,539.8 L967.6,544.1 L966.1,548.8 L965.7,553.9 L967.0,559.2 L969.3,563.5 L972.3,566.7 L975.6,568.8 M980.8,537.9 L981.2,539.3 L980.7,540.9 L980.4,543.6 L980.8,547.2 L981.7,551.5 L983.0,556.1 L984.6,560.6 L986.6,564.9 L988.8,568.7 L991.2,571.7 L993.8,573.9 L996.3,575.1 M989.6,543.0 L991.9,544.3 L994.0,546.5 L996.2,549.4 L998.2,553.1 L1000.3,557.2 L1002.2,561.7" fill="none" stroke="#000" stroke-width="4.6" stroke-linecap="round" stroke-linejoin="round"/>
<path d="M968.0,488.0 L971.0,488.5 L973.9,488.9 L976.9,489.3 L979.9,489.8 L982.8,490.2 L985.8,490.8 L988.7,491.4 L991.6,492.1 L994.5,492.9 L997.4,493.8 L1000.2,494.7 L1003.1,495.7 L1005.9,496.8 L1008.6,498.0 L1011.4,499.2 L1014.1,500.5 L1016.7,501.9 L1019.3,503.4 L1021.9,504.9 L1024.4,506.6 L1026.9,508.3 L1029.3,510.0 L1031.7,511.8 L1034.1,513.7 L1036.4,515.6 L1038.7,517.5 L1040.9,519.6 L1043.0,521.6 L1045.1,523.8 L1047.2,526.0 L1049.1,528.3 L1050.9,530.7 L1052.7,533.1 L1054.4,535.6 L1056.0,538.1 L1057.5,540.7 L1058.9,543.4 L1060.2,546.1 L1061.4,548.8 L1062.6,551.6 L1063.7,554.3 L1064.8,557.1 L1065.8,560.0 L1066.8,562.8 L1067.7,565.7 L1068.5,568.5 L1069.4,571.4 L1070.2,574.3 L1070.9,577.2 L1071.7,580.1 L1072.5,583.0 L1073.2,585.9 L1074.0,588.8 L1074.8,591.7 L1075.5,594.6 L1076.3,597.5 L1077.1,600.4 L1077.9,603.3 L1078.7,606.2 L1079.5,609.1 L1080.3,612.0 L1081.1,614.9 L1081.9,617.8 L1082.7,620.7 L1083.4,623.6 L1084.2,626.5 L1085.0,629.4 L1085.7,632.3 L1086.5,635.2 L1087.3,638.1 L1088.0,641.0 L1088.8,643.9 L1089.6,646.8 L1090.3,649.7 L1091.1,652.6 L1091.9,655.5 L1092.6,658.4 L1093.4,661.3 L1094.2,664.2 L1094.9,667.1 L1095.7,670.0 L1096.4,672.9 L1097.2,675.8 L1097.9,678.7 L1098.6,681.6 L1099.4,684.5 L1100.1,687.4 L1100.8,690.3 L1101.6,693.2 L1102.3,696.2 L1103.0,699.1 L1103.7,702.0 L1104.4,704.9 L1105.2,707.8 L1105.9,710.7 L1106.6,713.6 L1107.3,716.6 L1108.0,719.5 L1108.7,722.4 L1109.4,725.3 L1110.0,728.2 L1110.7,731.2 L1111.4,734.1 L1112.0,737.0 L1112.6,739.9 L1113.3,742.9 L1113.9,745.8 L1114.5,748.7 L1115.1,751.7 L1115.8,754.6 L1116.4,757.6 L1116.9,760.5 L1117.5,763.4 L1118.1,766.4 L1118.7,769.3 L1119.3,772.3 L1119.8,775.2 L1120.4,778.2 L1120.9,781.1 L1121.5,784.1 L1122.0,787.0 L1122.5,790.0 L1123.1,792.9 L1123.6,795.9 L1124.1,798.8 L1124.7,801.8 L1125.2,804.7 L1125.7,807.7 L1126.2,810.6 L1126.7,813.6 L1127.2,816.6 L1127.7,819.5 L1128.1,822.5 L1128.5,825.5 L1128.9,828.4 L1129.3,831.4 L1129.7,834.4 L1130.0,837.4 L1130.4,840.4 L1130.7,843.3 L1131.0,846.3 L1131.3,849.3 L1131.6,852.3 L1131.9,855.3 L1132.1,858.3 L1132.4,861.3 L1132.6,864.2 L1132.9,867.2 L1133.1,870.2 L1133.4,873.2 L1133.6,876.2 L1133.8,879.2 L1134.0,882.2 L1134.2,885.2 L1134.4,888.2 L1134.6,891.2 L1134.7,894.2 L1134.9,897.2 L1135.0,900.2 L1135.1,903.2 L1135.2,906.2 L1135.2,909.2 L1135.1,912.2 L1135.1,915.2 L1135.0,918.2 L1134.8,921.2 L1134.7,924.2 L1134.5,927.1 L1134.3,930.1 L1134.1,933.1 L1134.0,934.1" fill="none" stroke="#000" stroke-width="39.5" stroke-linecap="round" stroke-linejoin="round"/>
<path d="M968.0,488.0 L971.0,488.5 L973.9,488.9 L976.9,489.3 L979.9,489.8 L982.8,490.2 L985.8,490.8 L988.7,491.4 L991.6,492.1 L994.5,492.9 L997.4,493.8 L1000.2,494.7 L1003.1,495.7 L1005.9,496.8 L1008.6,498.0 L1011.4,499.2 L1014.1,500.5 L1016.7,501.9 L1019.3,503.4 L1021.9,504.9 L1024.4,506.6 L1026.9,508.3 L1029.3,510.0 L1031.7,511.8 L1034.1,513.7 L1036.4,515.6 L1038.7,517.5 L1040.9,519.6 L1043.0,521.6 L1045.1,523.8 L1047.2,526.0 L1049.1,528.3 L1050.9,530.7 L1052.7,533.1 L1054.4,535.6 L1056.0,538.1 L1057.5,540.7 L1058.9,543.4 L1060.2,546.1 L1061.4,548.8 L1062.6,551.6 L1063.7,554.3 L1064.8,557.1 L1065.8,560.0 L1066.8,562.8 L1067.7,565.7 L1068.5,568.5 L1069.4,571.4 L1070.2,574.3 L1070.9,577.2 L1071.7,580.1 L1072.5,583.0 L1073.2,585.9 L1074.0,588.8 L1074.8,591.7 L1075.5,594.6 L1076.3,597.5 L1077.1,600.4 L1077.9,603.3 L1078.7,606.2 L1079.5,609.1 L1080.3,612.0 L1081.1,614.9 L1081.9,617.8 L1082.7,620.7 L1083.4,623.6 L1084.2,626.5 L1085.0,629.4 L1085.7,632.3 L1086.5,635.2 L1087.3,638.1 L1088.0,641.0 L1088.8,643.9 L1089.6,646.8 L1090.3,649.7 L1091.1,652.6 L1091.9,655.5 L1092.6,658.4 L1093.4,661.3 L1094.2,664.2 L1094.9,667.1 L1095.7,670.0 L1096.4,672.9 L1097.2,675.8 L1097.9,678.7 L1098.6,681.6 L1099.4,684.5 L1100.1,687.4 L1100.8,690.3 L1101.6,693.2 L1102.3,696.2 L1103.0,699.1 L1103.7,702.0 L1104.4,704.9 L1105.2,707.8 L1105.9,710.7 L1106.6,713.6 L1107.3,716.6 L1108.0,719.5 L1108.7,722.4 L1109.4,725.3 L1110.0,728.2 L1110.7,731.2 L1111.4,734.1 L1112.0,737.0 L1112.6,739.9 L1113.3,742.9 L1113.9,745.8 L1114.5,748.7 L1115.1,751.7 L1115.8,754.6 L1116.4,757.6 L1116.9,760.5 L1117.5,763.4 L1118.1,766.4 L1118.7,769.3 L1119.3,772.3 L1119.8,775.2 L1120.4,778.2 L1120.9,781.1 L1121.5,784.1 L1122.0,787.0 L1122.5,790.0 L1123.1,792.9 L1123.6,795.9 L1124.1,798.8 L1124.7,801.8 L1125.2,804.7 L1125.7,807.7 L1126.2,810.6 L1126.7,813.6 L1127.2,816.6 L1127.7,819.5 L1128.1,822.5 L1128.5,825.5 L1128.9,828.4 L1129.3,831.4 L1129.7,834.4 L1130.0,837.4 L1130.4,840.4 L1130.7,843.3 L1131.0,846.3 L1131.3,849.3 L1131.6,852.3 L1131.9,855.3 L1132.1,858.3 L1132.4,861.3 L1132.6,864.2 L1132.9,867.2 L1133.1,870.2 L1133.4,873.2 L1133.6,876.2 L1133.8,879.2 L1134.0,882.2 L1134.2,885.2 L1134.4,888.2 L1134.6,891.2 L1134.7,894.2 L1134.9,897.2 L1135.0,900.2 L1135.1,903.2 L1135.2,906.2 L1135.2,909.2 L1135.1,912.2 L1135.1,915.2 L1135.0,918.2 L1134.8,921.2 L1134.7,924.2 L1134.5,927.1 L1134.3,930.1 L1134.1,933.1 L1134.0,934.1" fill="none" stroke="#fff" stroke-width="29.5" stroke-linecap="round" stroke-linejoin="round"/>
<path d="M966.5,496.5 L969.2,500.5 L971.8,503.7 L974.5,505.8 L977.2,506.8 M973.4,471.4 L975.3,472.2 L978.0,474.4 L980.7,477.5 L983.3,481.6 L985.6,486.2 L987.7,491.2 L988.7,495.9 L990.4,500.6 L991.8,504.8 L993.6,508.3 L995.6,510.8 L997.9,512.2 M1000.7,476.7 L1002.6,477.9 L1005.1,480.6 L1007.3,484.3 L1009.1,488.8 L1010.4,493.9 L1011.4,499.2 L1011.2,504.1 L1011.8,509.0 L1012.4,513.4 L1013.2,517.1 L1014.4,519.9 L1016.2,521.9 M1027.1,487.9 L1028.8,489.6 L1030.9,493.0 L1032.1,497.1 L1032.7,501.8 L1032.8,507.0 L1032.5,512.4 L1031.3,517.2 L1030.8,522.2 L1030.6,526.7 L1030.7,530.5 L1031.3,533.5 L1032.6,535.6 M1050.1,504.6 L1051.4,506.6 L1052.7,510.2 L1053.2,514.6 L1052.9,519.5 L1051.9,524.7 L1050.3,529.9 L1048.0,534.1 L1046.2,538.8 L1044.6,542.9 L1043.6,546.5 L1043.2,549.4 L1043.8,551.9 M1069.5,527.2 L1070.3,529.6 L1070.6,533.6 L1069.7,537.9 L1068.0,542.4 L1065.5,547.0 L1062.6,551.6 L1059.2,555.1 L1056.4,559.3 L1054.0,563.1 L1052.3,566.5 L1051.5,569.7 L1051.7,572.5 M1081.8,553.3 L1081.9,555.6 L1081.3,559.3 L1079.6,563.1 L1077.1,567.1 L1073.9,571.2 L1070.4,575.3 L1066.6,578.4 L1063.4,582.3 L1060.7,586.1 L1058.8,589.7 L1057.9,593.0 L1058.1,596.1 M1089.2,578.6 L1089.1,580.7 L1088.2,584.1 L1086.3,587.7 L1083.6,591.4 L1080.4,595.4 L1076.8,599.4 L1073.1,602.6 L1069.9,606.6 L1067.2,610.4 L1065.4,614.0 L1064.5,617.3 L1064.7,620.3 M1095.6,602.6 L1095.6,604.7 L1094.7,608.0 L1092.9,611.7 L1090.2,615.5 L1087.0,619.5 L1083.4,623.6 L1079.6,626.6 L1076.4,630.6 L1073.7,634.4 L1071.8,638.0 L1070.9,641.4 L1071.1,644.4 M1102.2,626.9 L1102.1,629.0 L1101.2,632.3 L1099.3,635.9 L1096.6,639.7 L1093.4,643.7 L1089.8,647.7 L1086.0,650.8 L1082.8,654.8 L1080.1,658.6 L1078.2,662.2 L1077.3,665.5 L1077.5,668.5 M1108.6,651.1 L1108.5,653.2 L1107.6,656.5 L1105.7,660.1 L1103.0,663.9 L1099.7,667.9 L1096.2,671.9 L1092.3,675.0 L1089.1,678.9 L1086.3,682.7 L1084.4,686.2 L1083.5,689.5 L1083.6,692.6 M1114.9,675.4 L1114.8,677.5 L1113.9,680.9 L1111.9,684.5 L1109.2,688.2 L1105.9,692.2 L1102.3,696.2 L1098.4,699.2 L1095.1,703.1 L1092.4,706.8 L1090.4,710.4 L1089.5,713.7 L1089.6,716.7 M1121.0,699.8 L1120.9,701.9 L1119.9,705.2 L1118.0,708.8 L1115.2,712.6 L1111.9,716.5 L1108.2,720.4 L1104.3,723.4 L1101.0,727.3 L1098.1,731.0 L1096.1,734.5 L1095.1,737.7 L1095.2,740.7 M1126.8,724.4 L1126.7,726.5 L1125.7,729.8 L1123.7,733.4 L1120.9,737.1 L1117.4,741.0 L1113.7,744.8 L1109.7,747.7 L1106.3,751.5 L1103.4,755.1 L1101.3,758.6 L1100.2,761.8 L1100.2,764.9 M1132.2,749.2 L1132.1,751.3 L1131.0,754.6 L1128.9,758.1 L1126.0,761.8 L1122.5,765.5 L1118.7,769.3 L1114.7,772.1 L1111.2,775.8 L1108.2,779.4 L1106.1,782.9 L1104.9,786.1 L1104.9,789.1 M1137.1,774.0 L1136.9,776.1 L1135.8,779.4 L1133.6,782.9 L1130.7,786.5 L1127.1,790.2 L1123.3,793.9 L1119.2,796.7 L1115.7,800.4 L1112.7,803.9 L1110.5,807.3 L1109.3,810.5 L1109.2,813.5 M1141.7,798.7 L1141.4,800.8 L1140.3,804.1 L1138.1,807.6 L1135.1,811.2 L1131.4,814.9 L1127.5,818.5 L1123.4,821.2 L1119.7,824.7 L1116.6,828.1 L1114.3,831.4 L1112.9,834.5 L1112.7,837.4 M1145.8,824.1 L1145.4,826.2 L1144.1,829.5 L1141.8,832.9 L1138.6,836.4 L1134.8,839.9 L1130.7,843.3 L1126.5,845.8 L1122.6,849.2 L1119.3,852.5 L1116.9,855.7 L1115.4,858.8 L1115.1,861.7 M1148.7,849.7 L1148.3,851.7 L1146.8,854.9 L1144.4,858.2 L1141.1,861.5 L1137.2,864.9 L1133.0,868.2 L1128.7,870.6 L1124.8,873.9 L1121.4,877.1 L1118.9,880.2 L1117.4,883.3 L1117.0,886.3 M1150.8,875.0 L1150.3,877.0 L1148.8,880.2 L1146.3,883.4 L1142.9,886.6 L1139.0,889.9 L1134.7,893.2 L1130.3,895.4 L1126.3,898.6 L1122.9,901.6 L1120.2,904.5 L1118.5,907.3 L1117.9,910.0 M1152.3,900.6 L1151.8,902.7 L1150.1,906.0 L1147.4,909.2 L1143.8,912.3 L1139.5,915.3 L1135.0,918.2 L1130.4,919.9 L1126.1,922.7 L1122.4,925.4 L1119.4,928.1 L1117.5,931.1 M1151.7,927.3 L1151.0,929.3 L1149.1,932.1" fill="none" stroke="#000" stroke-width="4.8" stroke-linecap="round" stroke-linejoin="round"/>
<path d="M1056.0,430.0 L1053.4,431.6 L1050.9,433.1 L1048.3,434.7 L1045.7,436.2 L1043.2,437.8 L1040.6,439.4 L1038.1,440.9 L1035.5,442.5 L1032.9,444.0 L1030.4,445.6 L1027.8,447.2 L1025.3,448.7 L1022.7,450.3 L1020.2,451.9 L1017.6,453.5 L1015.0,455.0 L1012.5,456.6 L1009.9,458.1 L1007.3,459.7 L1004.8,461.2 L1002.2,462.8 L999.7,464.4 L997.1,466.0 L994.6,467.6 L992.1,469.2 L989.5,470.8 L987.1,472.5 L984.6,474.3 L982.2,476.1 L979.9,477.9 L977.6,479.9 L975.3,481.8 L973.1,483.8 L970.8,485.8 L968.6,487.9 L966.4,489.9 L964.2,492.0 L962.0,494.0 L962.0,494.0" fill="none" stroke="#000" stroke-width="37.0" stroke-linecap="round" stroke-linejoin="round"/>
<path d="M1056.0,430.0 L1053.4,431.6 L1050.9,433.1 L1048.3,434.7 L1045.7,436.2 L1043.2,437.8 L1040.6,439.4 L1038.1,440.9 L1035.5,442.5 L1032.9,444.0 L1030.4,445.6 L1027.8,447.2 L1025.3,448.7 L1022.7,450.3 L1020.2,451.9 L1017.6,453.5 L1015.0,455.0 L1012.5,456.6 L1009.9,458.1 L1007.3,459.7 L1004.8,461.2 L1002.2,462.8 L999.7,464.4 L997.1,466.0 L994.6,467.6 L992.1,469.2 L989.5,470.8 L987.1,472.5 L984.6,474.3 L982.2,476.1 L979.9,477.9 L977.6,479.9 L975.3,481.8 L973.1,483.8 L970.8,485.8 L968.6,487.9 L966.4,489.9 L964.2,492.0 L962.0,494.0 L962.0,494.0" fill="none" stroke="#fff" stroke-width="27.0" stroke-linecap="round" stroke-linejoin="round"/>
<path d="M1047.1,419.2 L1044.5,418.9 L1041.7,420.0 M1063.2,443.7 L1059.8,443.9 L1056.8,442.8 L1052.5,441.5 L1048.8,439.3 L1044.0,437.3 L1040.2,434.8 L1035.6,433.0 L1032.2,431.3 L1028.3,430.7 L1025.7,430.3 L1022.9,431.4 M1046.4,454.6 L1044.4,455.2 L1041.0,455.3 L1038.0,454.2 L1033.7,453.0 L1030.0,450.7 L1025.3,448.7 L1021.4,446.3 L1016.8,444.6 L1013.4,442.8 L1009.5,442.2 L1007.0,441.8 L1004.2,442.9 M1027.7,466.0 L1025.7,466.7 L1022.2,466.9 L1019.2,465.8 L1014.9,464.5 L1011.2,462.2 L1006.5,460.2 L1002.6,457.7 L998.0,456.0 L994.6,454.2 L990.6,453.7 L988.0,453.4 L985.1,454.6 M1008.9,477.5 L1006.9,478.0 L1003.6,478.2 L1000.7,477.1 L996.4,475.9 L992.7,473.7 L987.9,472.0 L983.9,469.7 L979.0,468.5 L975.3,467.1 L971.1,467.2 L968.4,467.3 L965.6,469.0 M992.0,488.7 L990.3,489.4 L987.2,489.9 L984.2,489.1 L979.8,488.5 L975.8,486.9 L970.8,485.8 L966.5,484.1 L961.7,483.4 L958.0,482.3 L954.1,482.4 M976.7,502.3 L974.8,503.3 L971.2,504.3" fill="none" stroke="#000" stroke-width="4.8" stroke-linecap="round" stroke-linejoin="round"/>
<path d="M1040.0,408.0 L1037.4,409.4 L1034.7,410.9 L1032.1,412.3 L1029.4,413.7 L1026.8,415.1 L1024.2,416.6 L1021.5,418.0 L1018.9,419.4 L1016.3,420.9 L1013.6,422.3 L1011.0,423.8 L1008.4,425.2 L1005.8,426.7 L1003.2,428.2 L1000.6,429.7 L998.0,431.2 L995.3,432.6 L992.7,434.0 L990.0,435.4 L987.3,436.8 L984.7,438.1 L982.0,439.5 L979.4,441.0 L976.8,442.5 L974.3,444.1 L971.8,445.8 L969.5,447.7 L967.2,449.7 L965.1,451.8 L963.3,454.2 L961.6,456.6 L960.0,459.2 L958.6,461.9 L957.4,464.6 L956.3,467.4 L955.2,470.2 L954.3,473.0 L953.4,475.9 L952.5,478.8 L951.7,481.7 L950.9,484.6 L950.1,487.5 L949.4,490.4 L948.8,493.3 L948.4,496.3 L948.1,499.3 L947.8,502.3 L947.6,505.2 L947.4,508.2 L947.2,511.2 L946.9,514.2 L946.6,517.2 L946.1,520.2 L945.5,523.1 L944.7,526.0 L943.7,528.8 L942.6,531.6 L941.4,534.4 L940.1,537.1 L938.7,539.7 L937.3,542.3 L935.8,544.9 L934.3,547.5 L932.8,550.1 L931.3,552.7 L929.8,555.4 L928.3,558.0 L926.8,560.6 L925.3,563.1 L923.7,565.7 L922.2,568.3 L920.6,570.8 L919.0,573.4 L917.4,575.9 L915.8,578.5 L914.3,581.0 L912.8,583.6 L911.3,586.2 L909.7,588.8 L908.1,591.3 L906.9,594.1 L906.0,596.9 L905.1,599.8 L904.2,602.7 L903.4,605.5 L902.6,608.4 L901.8,611.3 L901.0,614.2 L900.2,617.1 L899.4,620.0 L898.7,622.9 L897.9,625.8 L897.2,628.7 L896.4,631.6 L895.7,634.5 L895.0,637.4 L894.3,640.4 L893.6,643.3 L892.9,646.2 L892.2,649.1 L891.5,652.0 L890.9,655.0 L890.3,657.9 L889.6,660.8 L889.0,663.8 L888.4,666.7 L887.9,669.7 L887.3,672.6 L886.7,675.6 L886.1,678.5 L885.6,681.4 L885.0,684.4 L884.5,687.3 L883.9,690.3 L883.3,693.2 L882.8,696.2 L882.2,699.1 L881.6,702.1 L881.0,705.0 L880.4,707.9 L879.8,710.9 L879.2,713.8 L878.6,716.8 L878.1,719.7 L877.5,722.7 L876.9,725.6 L876.3,728.5 L875.7,731.5 L875.1,734.4 L874.5,737.4 L873.9,740.3 L873.4,743.2 L872.8,746.2 L872.2,749.1 L871.6,752.1 L871.0,755.0 L870.4,758.0 L869.8,760.9 L869.2,763.8 L868.5,766.8 L867.9,769.7 L867.3,772.6 L866.7,775.6 L866.1,778.5 L865.5,781.4 L864.9,784.4 L864.3,787.3 L863.8,790.3 L863.2,793.2 L862.7,796.2 L862.1,799.1 L861.6,802.1 L861.2,805.1 L860.7,808.0 L860.2,811.0 L859.8,813.9 L859.3,816.9 L858.9,819.9 L858.5,822.9 L858.1,825.8 L857.7,828.8 L857.3,831.8 L856.9,834.7 L856.5,837.7 L856.1,840.7 L855.8,843.7 L855.4,846.7 L855.0,849.6 L854.7,852.6 L854.3,855.6 L854.0,858.6 L853.7,861.6 L853.3,864.5 L853.0,867.5 L852.7,870.5 L852.4,873.5 L852.1,876.5 L851.8,879.5 L851.5,882.4 L851.2,885.4 L850.9,888.4 L850.7,891.4 L850.4,894.4 L850.2,897.4 L850.0,900.4 L849.8,903.4 L849.7,906.4 L849.6,909.4 L849.6,912.4 L849.7,915.4 L849.8,918.4 L849.9,921.4 L850.0,924.4 L850.0,924.4" fill="none" stroke="#000" stroke-width="39.5" stroke-linecap="round" stroke-linejoin="round"/>
<path d="M1040.0,408.0 L1037.4,409.4 L1034.7,410.9 L1032.1,412.3 L1029.4,413.7 L1026.8,415.1 L1024.2,416.6 L1021.5,418.0 L1018.9,419.4 L1016.3,420.9 L1013.6,422.3 L1011.0,423.8 L1008.4,425.2 L1005.8,426.7 L1003.2,428.2 L1000.6,429.7 L998.0,431.2 L995.3,432.6 L992.7,434.0 L990.0,435.4 L987.3,436.8 L984.7,438.1 L982.0,439.5 L979.4,441.0 L976.8,442.5 L974.3,444.1 L971.8,445.8 L969.5,447.7 L967.2,449.7 L965.1,451.8 L963.3,454.2 L961.6,456.6 L960.0,459.2 L958.6,461.9 L957.4,464.6 L956.3,467.4 L955.2,470.2 L954.3,473.0 L953.4,475.9 L952.5,478.8 L951.7,481.7 L950.9,484.6 L950.1,487.5 L949.4,490.4 L948.8,493.3 L948.4,496.3 L948.1,499.3 L947.8,502.3 L947.6,505.2 L947.4,508.2 L947.2,511.2 L946.9,514.2 L946.6,517.2 L946.1,520.2 L945.5,523.1 L944.7,526.0 L943.7,528.8 L942.6,531.6 L941.4,534.4 L940.1,537.1 L938.7,539.7 L937.3,542.3 L935.8,544.9 L934.3,547.5 L932.8,550.1 L931.3,552.7 L929.8,555.4 L928.3,558.0 L926.8,560.6 L925.3,563.1 L923.7,565.7 L922.2,568.3 L920.6,570.8 L919.0,573.4 L917.4,575.9 L915.8,578.5 L914.3,581.0 L912.8,583.6 L911.3,586.2 L909.7,588.8 L908.1,591.3 L906.9,594.1 L906.0,596.9 L905.1,599.8 L904.2,602.7 L903.4,605.5 L902.6,608.4 L901.8,611.3 L901.0,614.2 L900.2,617.1 L899.4,620.0 L898.7,622.9 L897.9,625.8 L897.2,628.7 L896.4,631.6 L895.7,634.5 L895.0,637.4 L894.3,640.4 L893.6,643.3 L892.9,646.2 L892.2,649.1 L891.5,652.0 L890.9,655.0 L890.3,657.9 L889.6,660.8 L889.0,663.8 L888.4,666.7 L887.9,669.7 L887.3,672.6 L886.7,675.6 L886.1,678.5 L885.6,681.4 L885.0,684.4 L884.5,687.3 L883.9,690.3 L883.3,693.2 L882.8,696.2 L882.2,699.1 L881.6,702.1 L881.0,705.0 L880.4,707.9 L879.8,710.9 L879.2,713.8 L878.6,716.8 L878.1,719.7 L877.5,722.7 L876.9,725.6 L876.3,728.5 L875.7,731.5 L875.1,734.4 L874.5,737.4 L873.9,740.3 L873.4,743.2 L872.8,746.2 L872.2,749.1 L871.6,752.1 L871.0,755.0 L870.4,758.0 L869.8,760.9 L869.2,763.8 L868.5,766.8 L867.9,769.7 L867.3,772.6 L866.7,775.6 L866.1,778.5 L865.5,781.4 L864.9,784.4 L864.3,787.3 L863.8,790.3 L863.2,793.2 L862.7,796.2 L862.1,799.1 L861.6,802.1 L861.2,805.1 L860.7,808.0 L860.2,811.0 L859.8,813.9 L859.3,816.9 L858.9,819.9 L858.5,822.9 L858.1,825.8 L857.7,828.8 L857.3,831.8 L856.9,834.7 L856.5,837.7 L856.1,840.7 L855.8,843.7 L855.4,846.7 L855.0,849.6 L854.7,852.6 L854.3,855.6 L854.0,858.6 L853.7,861.6 L853.3,864.5 L853.0,867.5 L852.7,870.5 L852.4,873.5 L852.1,876.5 L851.8,879.5 L851.5,882.4 L851.2,885.4 L850.9,888.4 L850.7,891.4 L850.4,894.4 L850.2,897.4 L850.0,900.4 L849.8,903.4 L849.7,906.4 L849.6,909.4 L849.6,912.4 L849.7,915.4 L849.8,918.4 L849.9,921.4 L850.0,924.4 L850.0,924.4" fill="none" stroke="#fff" stroke-width="29.5" stroke-linecap="round" stroke-linejoin="round"/>
<path d="M1030.3,394.3 L1027.4,395.2 M1046.3,421.6 L1042.3,420.6 L1037.9,418.9 L1033.3,416.7 L1028.6,414.2 L1024.7,411.2 L1020.1,409.0 L1015.7,407.3 L1011.7,406.3 L1008.3,406.2 L1005.3,407.2 M1029.8,433.1 L1027.7,433.6 L1024.3,433.5 L1020.4,432.5 L1016.1,430.8 L1011.4,428.6 L1006.6,426.2 L1002.7,423.3 L998.0,421.2 L993.6,419.6 L989.9,418.6 L986.6,418.4 L983.9,419.1 M1008.4,445.1 L1006.1,445.7 L1002.4,445.8 L998.3,444.8 L993.9,443.1 L989.4,440.7 L984.7,438.1 L980.8,435.1 L976.1,433.0 L971.5,431.5 L967.0,431.0 L963.0,431.6 L959.5,433.5 M986.5,456.8 L984.8,457.2 L981.9,457.0 L978.4,456.1 L974.4,454.8 L969.7,453.5 L964.5,452.6 L959.7,451.5 L954.3,452.0 L949.4,453.3 L945.2,455.3 L942.1,458.0 L940.2,461.1 M975.1,467.6 L973.9,468.5 L971.4,469.8 L967.9,471.0 L963.7,472.2 L958.8,473.5 L953.7,474.9 L948.8,475.6 L944.0,477.4 L939.7,479.4 L936.3,481.6 L933.8,484.2 L932.3,487.9 M968.1,487.2 L967.0,488.9 L964.6,491.4 L961.3,493.0 L957.4,494.7 L952.8,496.8 L948.1,499.3 L943.5,500.9 L939.1,503.7 L935.3,506.4 L932.4,509.1 L930.4,511.7 L929.6,514.2 M964.7,508.4 L964.0,510.4 L962.0,513.5 L959.0,516.5 L955.0,519.4 L950.3,522.0 L945.3,524.1 L940.4,524.6 L935.6,525.8 L931.4,526.9 L927.9,528.1 L925.2,529.5 L923.5,531.5 M958.5,538.3 L957.0,540.3 L953.9,542.8 L950.0,544.5 L945.3,545.6 L940.1,546.3 L934.8,546.7 L929.9,546.2 L924.8,546.7 L920.1,547.6 L916.3,548.9 L913.4,550.5 L911.5,552.6 M945.8,562.0 L944.4,563.4 L941.3,565.4 L937.3,566.8 L932.7,567.6 L927.5,568.0 L922.2,568.3 L917.3,567.6 L912.2,568.0 L907.6,568.6 L903.6,569.8 L900.5,571.6 L898.4,574.1 M932.6,584.1 L931.1,585.5 L928.1,587.1 L924.3,588.1 L919.8,588.7 L914.6,589.4 L909.2,589.6 L904.2,589.2 L898.9,591.1 L894.4,593.2 L890.8,595.4 L888.2,597.9 L886.8,600.8 M922.4,602.2 L921.3,603.8 L918.8,606.0 L915.4,608.0 L911.1,609.8 L906.3,611.5 L901.2,613.2 L896.4,614.0 L891.6,615.9 L887.4,617.9 L883.9,620.1 L881.5,622.7 L880.2,625.5 M915.9,625.3 L914.8,627.1 L912.4,629.5 L909.0,631.7 L904.8,633.7 L900.0,635.6 L895.0,637.4 L890.2,638.3 L885.4,640.3 L881.2,642.4 L877.9,644.8 L875.5,647.4 L874.3,650.3 M909.9,649.2 L908.9,651.0 L906.5,653.4 L903.2,655.7 L899.1,657.8 L894.4,659.8 L889.4,661.8 L884.7,662.9 L880.0,665.0 L875.9,667.3 L872.6,669.8 L870.3,672.4 L869.2,675.3 M904.8,673.0 L903.8,674.8 L901.6,677.4 L898.3,679.8 L894.2,682.1 L889.6,684.2 L884.6,686.4 L879.9,687.5 L875.2,689.6 L871.2,691.9 L867.9,694.3 L865.6,696.8 L864.5,699.7 M900.1,697.5 L899.1,699.4 L896.8,702.0 L893.5,704.5 L889.5,706.7 L884.8,708.8 L879.8,710.9 L875.1,712.0 L870.4,714.1 L866.3,716.3 L863.0,718.7 L860.7,721.3 L859.6,724.2 M895.2,722.1 L894.2,724.0 L891.9,726.6 L888.6,729.0 L884.6,731.2 L879.9,733.3 L874.9,735.4 L870.1,736.5 L865.5,738.6 L861.4,740.9 L858.1,743.3 L855.8,745.9 L854.7,748.7 M890.3,746.6 L889.3,748.5 L887.0,751.1 L883.7,753.5 L879.6,755.8 L875.0,757.9 L870.0,759.9 L865.2,761.0 L860.5,763.0 L856.4,765.2 L853.1,767.6 L850.8,770.2 L849.6,773.1 M885.2,771.3 L884.2,773.1 L881.9,775.7 L878.6,778.0 L874.5,780.2 L869.9,782.3 L864.9,784.4 L860.1,785.5 L855.5,787.7 L851.4,790.0 L848.1,792.5 L845.9,795.3 L844.8,798.2 M880.3,795.4 L879.4,797.2 L877.2,799.8 L874.0,802.2 L870.0,804.5 L865.4,806.7 L860.5,809.0 L855.8,810.3 L851.2,812.7 L847.3,815.1 L844.1,817.8 L842.0,820.5 L841.0,823.5 M876.4,819.4 L875.5,821.3 L873.4,823.9 L870.3,826.5 L866.4,829.0 L861.8,831.4 L857.0,833.8 L852.3,835.2 L847.8,837.6 L843.9,840.2 L840.8,842.9 L838.7,845.6 L837.8,848.6 M873.1,843.8 L872.3,845.7 L870.2,848.5 L867.2,851.1 L863.3,853.6 L858.8,856.1 L854.0,858.6 L849.3,860.1 L844.9,862.6 L841.0,865.2 L837.9,867.9 L835.9,870.8 L835.0,873.7 M870.3,868.4 L869.5,870.3 L867.4,873.1 L864.4,875.7 L860.6,878.3 L856.1,880.9 L851.4,883.4 L846.8,885.0 L842.3,887.6 L838.5,890.4 L835.5,893.2 L833.6,896.2 L832.8,899.3 M867.9,892.9 L867.1,894.8 L865.2,897.5 L862.2,900.2 L858.5,902.8 L854.2,905.5 L849.7,908.4 L845.2,910.3 L841.0,913.5 L837.5,916.7 L834.9,920.0 L833.3,923.0 M867.0,915.9 L866.4,917.8 L864.8,920.8" fill="none" stroke="#000" stroke-width="4.8" stroke-linecap="round" stroke-linejoin="round"/>
<path d="M967.5,381.2 C969.2,376.0 971.2,369.6 975.0,365.0 C978.8,360.4 984.6,356.0 990.0,353.7 C995.4,351.4 1002.5,350.8 1007.5,351.2 C1012.5,351.6 1017.1,352.9 1020.0,356.2 C1022.9,359.5 1022.1,367.0 1025.0,371.2 C1027.9,375.4 1034.8,376.4 1037.5,381.2 C1040.2,386.0 1041.2,393.5 1041.2,400.0 C1041.2,406.5 1040.2,415.0 1037.5,420.0 C1034.8,425.0 1030.2,427.9 1025.0,430.0 C1019.8,432.1 1012.5,432.9 1006.2,432.5 C1000.0,432.1 993.5,430.4 987.5,427.5 C981.5,424.6 973.8,420.2 970.0,415.0 C966.2,409.8 965.4,401.8 965.0,396.2 C964.6,390.6 965.8,386.4 967.5,381.2Z" fill="#fff" stroke="#000" stroke-width="4.8" stroke-linejoin="round"/>
<path d="M1002.5,356.2 C1002.9,353.3 1009.4,352.9 1012.5,353.7 C1015.6,354.5 1019.3,358.1 1021.2,361.2 C1023.1,364.3 1024.3,369.2 1023.7,372.5 C1023.1,375.8 1019.8,381.4 1017.5,381.2 C1015.2,381.0 1012.5,375.4 1010.0,371.2 C1007.5,367.0 1002.1,359.1 1002.5,356.2Z" fill="#fff" stroke="#000" stroke-width="4.8" stroke-linejoin="round"/>
<path d="M971.2,381.2 C972.2,377.1 976.0,377.7 980.0,377.5 C984.0,377.3 991.0,377.9 995.0,380.0 C999.0,382.1 1002.2,386.3 1003.7,390.0 C1005.2,393.7 1006.4,400.5 1003.7,402.0 C1001.0,403.5 992.5,399.0 987.5,399.0 C982.5,399.0 976.4,405.0 973.7,402.0 C971.0,399.0 970.2,385.3 971.2,381.2Z" fill="#fff" stroke="#000" stroke-width="4.8" stroke-linejoin="round"/>
<path d="M973,402 Q990,396 1004,400 M963,418 Q985,406 1002,408 Q1006,412 1004,420 M1004,400 Q1020,398 1030,385 M1004,420 Q1025,420 1038,405" fill="none" stroke="#000" stroke-width="4.2" stroke-linecap="round"/>
<path d="M946.0,152.0 C950.8,146.7 963.3,144.8 972.0,141.0 C980.7,137.2 988.3,132.5 998.0,129.0 C1007.7,125.5 1020.5,120.3 1030.0,120.0 C1039.5,119.7 1049.0,122.0 1055.0,127.0 C1061.0,132.0 1064.3,139.8 1066.0,150.0 C1067.7,160.2 1067.2,177.8 1065.0,188.0 C1062.8,198.2 1059.5,204.5 1053.0,211.0 C1046.5,217.5 1036.2,224.5 1026.0,227.0 C1015.8,229.5 1001.3,227.8 992.0,226.0 C982.7,224.2 977.0,220.8 970.0,216.0 C963.0,211.2 954.5,204.2 950.0,197.0 C945.5,189.8 943.7,180.5 943.0,173.0 C942.3,165.5 941.2,157.3 946.0,152.0Z" fill="#fff" stroke="#000" stroke-width="4.8" stroke-linejoin="round"/>
<path d="M995.4,145.0 C994.3,142.8 995.9,135.2 998.7,131.5 C1001.5,127.8 1006.6,124.4 1012.2,122.5 C1017.8,120.6 1026.3,120.0 1032.5,120.2 C1038.7,120.4 1044.5,120.8 1049.4,123.6 C1054.3,126.4 1059.1,132.0 1061.7,137.1 C1064.3,142.2 1064.9,149.7 1065.1,154.0 C1065.3,158.3 1064.6,162.2 1062.9,163.0 C1061.2,163.8 1057.8,161.9 1055.0,158.5 C1052.2,155.1 1049.8,146.8 1046.0,142.7 C1042.2,138.6 1036.6,135.2 1032.5,133.7 C1028.4,132.2 1024.2,132.2 1021.2,133.7 C1018.2,135.2 1017.1,140.8 1014.5,142.7 C1011.9,144.6 1008.7,144.6 1005.5,145.0 C1002.3,145.4 996.5,147.2 995.4,145.0Z" fill="#fff" stroke="#000" stroke-width="4.8" stroke-linejoin="round"/>
<path d="M1010.0,142.7 C1009.1,140.1 1012.8,134.1 1015.6,131.5 C1018.4,128.9 1023.0,127.0 1026.9,127.0 C1030.8,127.0 1036.2,128.5 1039.2,131.5 C1042.2,134.5 1044.2,140.9 1044.9,145.0 C1045.7,149.1 1045.8,154.9 1043.7,156.2 C1041.6,157.5 1036.2,154.4 1032.5,152.9 C1028.8,151.4 1025.0,148.9 1021.2,147.2 C1017.5,145.5 1010.9,145.3 1010.0,142.7Z" fill="#fff" stroke="#000" stroke-width="4.8" stroke-linejoin="round"/>
<path d="M1047.1,163.0 C1049.2,158.7 1052.4,157.8 1055.0,158.5 C1057.6,159.2 1061.4,163.2 1062.9,167.5 C1064.4,171.8 1064.8,178.8 1064.0,184.4 C1063.2,190.0 1060.7,196.9 1058.4,201.2 C1056.2,205.5 1053.3,208.3 1050.5,210.2 C1047.7,212.1 1043.6,214.0 1041.5,212.5 C1039.4,211.0 1037.9,205.9 1038.1,201.2 C1038.3,196.5 1041.1,190.8 1042.6,184.4 C1044.1,178.0 1045.0,167.3 1047.1,163.0Z" fill="#fff" stroke="#000" stroke-width="4.8" stroke-linejoin="round"/>
<path d="M943.6,173.1 C944.2,167.8 946.0,160.7 949.2,156.2 C952.4,151.7 958.2,148.1 962.7,146.1 C967.2,144.1 972.8,143.2 976.2,143.9 C979.6,144.7 983.5,147.4 983.0,150.6 C982.5,153.8 975.5,158.3 972.9,163.0 C970.3,167.7 968.5,173.1 967.2,178.7 C965.9,184.3 967.2,193.7 965.0,196.7 C962.8,199.7 956.9,198.2 953.7,196.7 C950.5,195.2 947.6,191.6 945.9,187.7 C944.2,183.8 943.0,178.3 943.6,173.1Z" fill="#fff" stroke="#000" stroke-width="4.8" stroke-linejoin="round"/>
<path d="M976.2,163.0 C977.0,159.2 979.2,154.7 983.0,151.7 C986.8,148.7 992.7,146.1 998.7,145.0 C1004.7,143.9 1014.1,143.7 1019.0,145.0 C1023.9,146.3 1027.6,149.9 1028.0,152.9 C1028.4,155.9 1024.2,161.3 1021.2,163.0 C1018.2,164.7 1013.8,162.2 1010.0,163.0 C1006.2,163.8 1002.5,165.2 998.7,167.5 C995.0,169.8 990.9,175.4 987.5,176.5 C984.1,177.6 980.4,176.4 978.5,174.2 C976.6,171.9 975.5,166.8 976.2,163.0Z" fill="#fff" stroke="#000" stroke-width="4.8" stroke-linejoin="round"/>
<path d="M1019.0,172.0 C1021.2,167.5 1024.6,163.3 1028.0,160.7 C1031.4,158.1 1036.2,155.8 1039.2,156.2 C1042.2,156.6 1045.2,159.2 1046.0,163.0 C1046.8,166.8 1045.6,173.3 1043.7,178.7 C1041.8,184.1 1037.3,190.0 1034.7,195.6 C1032.1,201.2 1030.2,207.4 1028.0,212.5 C1025.8,217.6 1023.5,224.1 1021.2,226.0 C1019.0,227.9 1016.0,226.9 1014.5,223.7 C1013.0,220.5 1012.2,212.9 1012.2,206.9 C1012.2,200.9 1013.4,193.5 1014.5,187.7 C1015.6,181.9 1016.8,176.5 1019.0,172.0Z" fill="#fff" stroke="#000" stroke-width="4.8" stroke-linejoin="round"/>
<path d="M969.5,172.0 C971.4,170.5 975.5,174.8 978.5,178.7 C981.5,182.6 985.2,190.0 987.5,195.6 C989.8,201.2 992.0,208.0 992.0,212.5 C992.0,217.0 990.1,221.1 987.5,222.6 C984.9,224.1 979.2,224.1 976.2,221.5 C973.2,218.9 971.0,212.5 969.5,206.9 C968.0,201.3 967.2,193.5 967.2,187.7 C967.2,181.9 967.6,173.5 969.5,172.0Z" fill="#fff" stroke="#000" stroke-width="4.8" stroke-linejoin="round"/>
<path d="M987.5,172.0 C989.0,168.2 995.3,166.8 998.7,167.5 C1002.1,168.2 1005.1,171.8 1007.7,176.5 C1010.3,181.2 1013.5,188.7 1014.5,195.6 C1015.5,202.5 1014.9,212.8 1013.4,218.1 C1011.9,223.3 1008.7,226.2 1005.5,227.1 C1002.3,228.0 996.5,227.1 994.2,223.7 C992.0,220.3 992.8,212.5 992.0,206.9 C991.2,201.3 990.5,195.8 989.7,190.0 C989.0,184.2 986.0,175.8 987.5,172.0Z" fill="#fff" stroke="#000" stroke-width="4.8" stroke-linejoin="round"/>
<path d="M600,468 L700,450 L700,548 L600,548Z" fill="#fff" stroke="#000" stroke-width="4.6" stroke-linejoin="round"/>
<path d="M620,485 Q635,484 652,476 M607,504 Q630,501 652,489 M614,520 Q630,515 647,520 Q660,528 668,530 M614,536 Q635,534 660,537 Q672,537 680,536" fill="none" stroke="#000" stroke-width="4" stroke-linecap="round"/>
<path d="M598,497 L607,505 L606,517 L615,521 L614,530 L618,534 L596,540Z" fill="#403836"/>
<path d="M685.0,460.0 C684.6,455.9 692.7,454.5 697.5,453.7 C702.3,452.9 708.5,452.9 713.7,455.0 C718.9,457.1 724.5,461.6 728.7,466.2 C732.9,470.8 736.6,477.3 738.7,482.5 C740.8,487.7 741.8,493.6 741.2,497.5 C740.6,501.4 737.7,504.3 735.0,506.2 C732.3,508.1 728.8,510.0 725.0,509.0 C721.2,508.0 716.2,505.2 712.0,500.0 C707.8,494.8 704.5,484.7 700.0,478.0 C695.5,471.3 685.4,464.1 685.0,460.0Z" fill="#fff" stroke="#000" stroke-width="4.8" stroke-linejoin="round"/>
<path d="M657.5,500.0 C655.8,493.3 658.1,485.6 660.0,480.0 C661.9,474.4 665.4,469.3 668.7,466.2 C672.0,463.1 675.6,460.4 680.0,461.2 C684.4,462.0 690.4,466.4 695.0,471.2 C699.6,476.0 703.5,483.3 707.5,490.0 C711.5,496.7 716.2,505.4 718.7,511.2 C721.2,517.0 722.9,521.0 722.5,525.0 C722.1,529.0 719.8,532.7 716.2,535.0 C712.7,537.3 706.4,539.1 701.2,538.7 C696.0,538.3 690.2,535.6 685.0,532.5 C679.8,529.4 674.6,525.4 670.0,520.0 C665.4,514.6 659.2,506.7 657.5,500.0Z" fill="#fff" stroke="#000" stroke-width="4.8" stroke-linejoin="round"/>
<path d="M677,469 Q685,488 697,505 Q703,510 707,510 M684,505 Q688,515 696,521 M687,461 Q705,470 720,488 Q726,498 726,505 M715,457 Q728,472 728,490" fill="none" stroke="#000" stroke-width="4" stroke-linecap="round"/>
<path d="M1335,470 L1372,486 L1396,502 L1417,521 L1411,536 L1394,550 L1372,568 L1300,568Z" fill="#fff" stroke="#000" stroke-width="4.6" stroke-linejoin="round"/>
<path d="M1368,492 Q1385,492 1400,506 M1366,505 Q1390,508 1410,524 M1364,520 Q1385,528 1402,543 M1356,534 Q1372,545 1380,560 M1345,545 Q1352,555 1352,566 M1372,488 Q1395,495 1412,512" fill="none" stroke="#000" stroke-width="4" stroke-linecap="round"/>
<path d="M1300.0,528.0 C1304.0,526.3 1310.7,530.0 1316.0,532.0 C1321.3,534.0 1328.0,535.3 1332.0,540.0 C1336.0,544.7 1342.0,556.0 1340.0,560.0 C1338.0,564.0 1326.0,564.7 1320.0,564.0 C1314.0,563.3 1308.7,559.7 1304.0,556.0 C1299.3,552.3 1292.7,546.7 1292.0,542.0 C1291.3,537.3 1296.0,529.7 1300.0,528.0Z" fill="#fff" stroke="#000" stroke-width="4.8" stroke-linejoin="round"/>
<path d="M1332.0,480.0 C1333.0,477.3 1341.3,477.0 1346.0,478.0 C1350.7,479.0 1356.3,482.3 1360.0,486.0 C1363.7,489.7 1367.3,494.7 1368.0,500.0 C1368.7,505.3 1366.7,512.7 1364.0,518.0 C1361.3,523.3 1356.3,528.7 1352.0,532.0 C1347.7,535.3 1342.0,538.7 1338.0,538.0 C1334.0,537.3 1328.0,532.3 1328.0,528.0 C1328.0,523.7 1336.0,517.7 1338.0,512.0 C1340.0,506.3 1341.0,499.3 1340.0,494.0 C1339.0,488.7 1331.0,482.7 1332.0,480.0Z" fill="#fff" stroke="#000" stroke-width="4.8" stroke-linejoin="round"/>
<path d="M1308.0,484.0 C1309.7,480.0 1316.0,476.7 1320.0,476.0 C1324.0,475.3 1328.7,477.0 1332.0,480.0 C1335.3,483.0 1339.0,488.7 1340.0,494.0 C1341.0,499.3 1340.0,506.3 1338.0,512.0 C1336.0,517.7 1331.7,524.3 1328.0,528.0 C1324.3,531.7 1319.3,535.3 1316.0,534.0 C1312.7,532.7 1309.0,525.7 1308.0,520.0 C1307.0,514.3 1310.0,506.0 1310.0,500.0 C1310.0,494.0 1306.3,488.0 1308.0,484.0Z" fill="#fff" stroke="#000" stroke-width="4.8" stroke-linejoin="round"/>
<path d="M1256.0,528.0 C1256.3,524.7 1256.7,522.7 1260.0,520.0 C1263.3,517.3 1268.7,516.0 1276.0,512.0 C1283.3,508.0 1298.5,498.0 1304.0,496.0 C1309.5,494.0 1308.0,497.3 1309.0,500.0 C1310.0,502.7 1311.5,508.0 1310.0,512.0 C1308.5,516.0 1304.3,520.0 1300.0,524.0 C1295.7,528.0 1289.3,532.3 1284.0,536.0 C1278.7,539.7 1272.3,545.3 1268.0,546.0 C1263.7,546.7 1260.0,543.0 1258.0,540.0 C1256.0,537.0 1255.7,531.3 1256.0,528.0Z" fill="#fff" stroke="#000" stroke-width="4.8" stroke-linejoin="round"/>
<path d="M1322,488 Q1328,500 1322,516 M1350,490 Q1356,505 1348,522 M1312,540 Q1322,545 1326,556" fill="none" stroke="#000" stroke-width="4" stroke-linecap="round"/>
<path d="M812,950 L905,950 L895,1027 L828,1027Z" fill="#fff" stroke="#000" stroke-width="4.6" stroke-linejoin="round"/>
<path d="M822,968 Q830,980 845,990 Q848,1005 842,1018 Q838,1024 836,1027 M850,986 Q868,985 882,992 M866,994 Q875,999 878,1008" fill="none" stroke="#000" stroke-width="4" stroke-linecap="round"/>
<path d="M817.5,925.0 C818.1,921.0 819.6,918.3 822.5,916.2 C825.4,914.1 832.1,911.7 835.0,912.5 C837.9,913.3 836.7,919.3 840.0,921.2 C843.3,923.1 849.6,923.5 855.0,923.7 C860.4,923.9 869.2,921.0 872.5,922.5 C875.8,924.0 872.1,931.0 875.0,932.5 C877.9,934.0 886.7,930.2 890.0,931.2 C893.3,932.2 894.6,935.6 895.0,938.7 C895.4,941.8 895.0,946.5 892.5,950.0 C890.0,953.5 885.4,957.5 880.0,960.0 C874.6,962.5 866.7,964.6 860.0,965.0 C853.3,965.4 845.8,964.2 840.0,962.5 C834.2,960.8 828.5,958.8 825.0,955.0 C821.5,951.2 820.0,945.0 818.7,940.0 C817.5,935.0 816.9,929.0 817.5,925.0Z" fill="#fff" stroke="#000" stroke-width="4.8" stroke-linejoin="round"/>
<path d="M838,913 Q846,900 858,893 M824,938 Q832,936 836,940 M826,948 Q840,947 853,943 M838,957 Q860,955 868,948 M862,970 Q875,966 882,961 M836,920 Q860,928 874,924" fill="none" stroke="#000" stroke-width="4" stroke-linecap="round"/>
<path d="M1090,980 L1180,980 L1165,1047 L1105,1047Z" fill="#fff" stroke="#000" stroke-width="4.6" stroke-linejoin="round"/>
<path d="M1104,993 Q1108,1000 1102,1010 M1113,995 Q1115,1008 1108,1020 Q1108,1030 1110,1035 M1130,1000 Q1125,1012 1120,1025 Q1120,1035 1124,1042 M1138,1002 Q1140,1020 1148,1032 Q1150,1040 1150,1045 M1154,1000 Q1158,1005 1160,1008" fill="none" stroke="#000" stroke-width="4" stroke-linecap="round"/>
<path d="M1097.5,941.0 C1099.2,937.7 1100.8,934.5 1103.7,932.5 C1106.6,930.5 1110.6,927.9 1115.0,928.7 C1119.4,929.5 1124.6,937.1 1130.0,937.5 C1135.4,937.9 1142.1,931.2 1147.5,931.0 C1152.9,930.8 1158.8,932.8 1162.5,936.0 C1166.2,939.2 1168.8,945.2 1170.0,950.0 C1171.2,954.8 1170.8,960.0 1170.0,965.0 C1169.2,970.0 1167.9,975.7 1165.0,980.0 C1162.1,984.3 1157.9,988.5 1152.5,991.0 C1147.1,993.5 1139.2,995.2 1132.5,995.0 C1125.8,994.8 1117.5,992.9 1112.5,990.0 C1107.5,987.1 1104.6,982.1 1102.5,977.5 C1100.4,972.9 1101.5,966.7 1100.0,962.5 C1098.5,958.3 1094.1,956.1 1093.7,952.5 C1093.3,948.9 1095.8,944.3 1097.5,941.0Z" fill="#fff" stroke="#000" stroke-width="4.8" stroke-linejoin="round"/>
<path d="M1100,952 Q1115,945 1137,942 Q1145,944 1150,947 M1102,970 Q1125,970 1150,962 Q1160,955 1162,950 M1117,954 L1130,954 M1150,976 Q1162,974 1168,969 M1105,960 L1112,961" fill="none" stroke="#000" stroke-width="4" stroke-linecap="round"/>
</g>
<clipPath id="mclip"><path d="M1122.0,240.0 C1125.8,230.0 1132.8,221.7 1140.0,215.0 C1147.2,208.3 1154.7,203.8 1165.0,200.0 C1175.3,196.2 1189.5,193.7 1202.0,192.0 C1214.5,190.3 1229.5,189.5 1240.0,190.0 C1250.5,190.5 1255.8,193.3 1265.0,195.0 C1274.2,196.7 1284.7,195.0 1295.0,200.0 C1305.3,205.0 1318.7,215.8 1327.0,225.0 C1335.3,234.2 1340.8,244.2 1345.0,255.0 C1349.2,265.8 1351.7,279.2 1352.0,290.0 C1352.3,300.8 1348.7,310.0 1347.0,320.0 C1345.3,330.0 1345.7,337.5 1342.0,350.0 C1338.3,362.5 1330.3,382.5 1325.0,395.0 C1319.7,407.5 1317.5,417.5 1310.0,425.0 C1302.5,432.5 1290.0,437.3 1280.0,440.0 C1270.0,442.7 1263.3,441.8 1250.0,441.0 C1236.7,440.2 1216.7,439.3 1200.0,435.0 C1183.3,430.7 1162.2,424.2 1150.0,415.0 C1137.8,405.8 1132.5,395.0 1127.0,380.0 C1121.5,365.0 1118.7,342.5 1117.0,325.0 C1115.3,307.5 1116.2,289.2 1117.0,275.0 C1117.8,260.8 1118.2,250.0 1122.0,240.0Z"/></clipPath>
<path d="M1094.0,200.0 C1091.0,202.5 1100.0,223.3 1102.0,240.0 C1104.0,256.7 1105.0,280.0 1106.0,300.0 C1107.0,320.0 1106.7,343.3 1108.0,360.0 C1109.3,376.7 1111.0,389.0 1114.0,400.0 C1117.0,411.0 1121.7,419.3 1126.0,426.0 C1130.3,432.7 1134.0,436.7 1140.0,440.0 C1146.0,443.3 1147.8,443.3 1162.0,446.0 C1176.2,448.7 1206.2,454.0 1225.0,456.0 C1243.8,458.0 1263.8,458.7 1275.0,458.0 C1286.2,457.3 1286.2,457.0 1292.0,452.0 C1297.8,447.0 1304.5,437.5 1310.0,428.0 C1315.5,418.5 1319.7,408.0 1325.0,395.0 C1330.3,382.0 1338.3,362.5 1342.0,350.0 C1345.7,337.5 1345.3,330.0 1347.0,320.0 C1348.7,310.0 1352.3,300.8 1352.0,290.0 C1351.7,279.2 1349.2,265.8 1345.0,255.0 C1340.8,244.2 1335.3,234.2 1327.0,225.0 C1318.7,215.8 1305.3,205.5 1295.0,200.0 C1284.7,194.5 1274.2,194.0 1265.0,192.0 C1255.8,190.0 1250.5,188.3 1240.0,188.0 C1229.5,187.7 1214.5,188.3 1202.0,190.0 C1189.5,191.7 1175.3,194.3 1165.0,198.0 C1154.7,201.7 1147.5,207.5 1140.0,212.0 C1132.5,216.5 1127.7,227.0 1120.0,225.0 C1112.3,223.0 1097.0,197.5 1094.0,200.0Z" fill="#fff"/>
<path d="M1112.0,90.0 C1116.7,86.0 1131.2,83.7 1140.0,86.0 C1148.8,88.3 1158.0,98.0 1165.0,104.0 C1172.0,110.0 1175.8,114.8 1182.0,122.0 C1188.2,129.2 1195.7,138.2 1202.0,147.0 C1208.3,155.8 1215.0,167.5 1220.0,175.0 C1225.0,182.5 1235.3,187.8 1232.0,192.0 C1228.7,196.2 1211.2,198.3 1200.0,200.0 C1188.8,201.7 1173.0,205.0 1165.0,202.0 C1157.0,199.0 1156.2,189.0 1152.0,182.0 C1147.8,175.0 1145.0,167.8 1140.0,160.0 C1135.0,152.2 1126.7,143.3 1122.0,135.0 C1117.3,126.7 1113.7,117.5 1112.0,110.0 C1110.3,102.5 1107.3,94.0 1112.0,90.0Z" fill="#fbf9f6" filter="url(#b2)"/>
<g clip-path="url(#mclip)">
<ellipse cx="1225" cy="315" rx="85" ry="90" fill="#f3ebdc" filter="url(#b18)"/>
<path d="M1105,395 Q1150,448 1230,460 Q1290,462 1330,425 L1335,480 L1095,480Z" fill="#b9b5cc" filter="url(#b8)" opacity="0.8"/>
<path d="M1338,305 Q1336,360 1320,415" fill="none" stroke="#ece9f0" stroke-width="4" filter="url(#b3)"/>
</g>
<path d="M1261.0,223.0 C1261.3,217.5 1262.5,212.5 1266.0,209.0 C1269.5,205.5 1274.3,202.3 1282.0,202.0 C1289.7,201.7 1303.3,202.8 1312.0,207.0 C1320.7,211.2 1328.0,218.2 1334.0,227.0 C1340.0,235.8 1344.5,248.3 1348.0,260.0 C1351.5,271.7 1354.3,288.2 1355.0,297.0 C1355.7,305.8 1354.3,310.9 1352.0,313.0 C1349.7,315.1 1346.5,312.8 1341.0,309.5 C1335.5,306.2 1327.0,298.2 1319.0,293.0 C1311.0,287.8 1300.7,283.5 1293.0,278.0 C1285.3,272.5 1277.8,266.0 1273.0,260.0 C1268.2,254.0 1266.0,248.2 1264.0,242.0 C1262.0,235.8 1260.7,228.5 1261.0,223.0Z" fill="#160b22"/>
<ellipse cx="1177" cy="174" rx="10.5" ry="23" fill="#1a0d1e" transform="rotate(-20 1177 174)"/>
<ellipse cx="1215" cy="177" rx="3.5" ry="13" fill="#1a0d1e" transform="rotate(-22 1215 177)"/>
<path d="M1280.5,372 Q1289,388 1316,404" fill="none" stroke="#26102e" stroke-width="4.2" stroke-linecap="round"/>
<line x1="695" y1="492" x2="483" y2="629" stroke="#e8174f" stroke-width="4"/>
<circle cx="695" cy="492" r="7" fill="#e8174f"/><circle cx="483" cy="629" r="7" fill="#e8174f"/>
<line x1="807" y1="643" x2="638.4" y2="1025.4" stroke="#e8174f" stroke-width="4"/>
<circle cx="807" cy="643" r="7" fill="#e8174f"/><circle cx="638.4" cy="1025.4" r="7" fill="#e8174f"/>
<line x1="1192" y1="647" x2="1303" y2="840.5" stroke="#e8174f" stroke-width="4"/>
<circle cx="1192" cy="647" r="7" fill="#e8174f"/><circle cx="1303" cy="840.5" r="7" fill="#e8174f"/>
<g font-family="'Liberation Sans', sans-serif" font-weight="bold" font-size="55" fill="#231f20">
<text x="89" y="561.5" textLength="397" lengthAdjust="spacingAndGlyphs" text-anchor="start">Internal knotted</text>
<text x="89" y="629.6" textLength="323" lengthAdjust="spacingAndGlyphs" text-anchor="start">rope satisfies</text>
<text x="89" y="698" textLength="391" lengthAdjust="spacingAndGlyphs" text-anchor="start">natural instincts</text>
<text x="271" y="1098" textLength="406" lengthAdjust="spacingAndGlyphs" text-anchor="start">Soft and durable</text>
<text x="1321" y="819.5" textLength="190" lengthAdjust="spacingAndGlyphs" text-anchor="start">Minimal</text>
<text x="1330" y="887.5" textLength="182" lengthAdjust="spacingAndGlyphs" text-anchor="start">stuffing</text>
</g>
</svg>
</body></html>
